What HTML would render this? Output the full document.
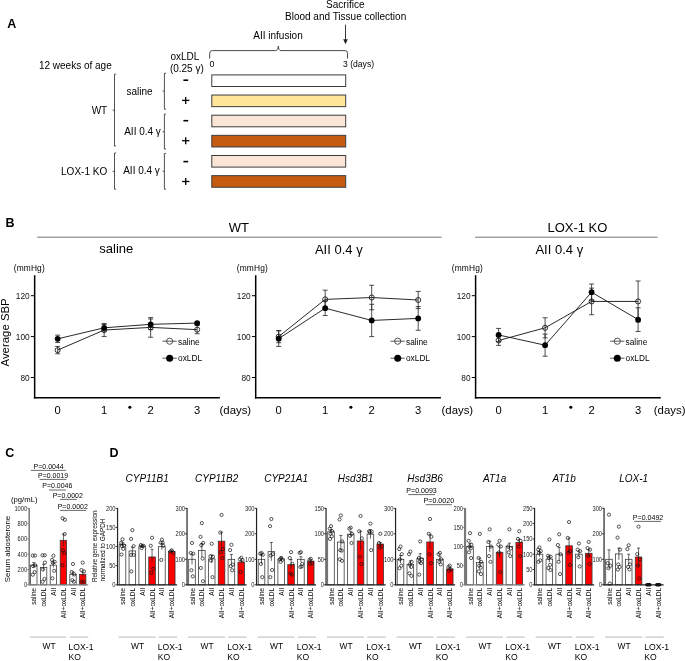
<!DOCTYPE html>
<html><head><meta charset="utf-8"><style>
html,body{margin:0;padding:0;background:#fff;}
svg{display:block;will-change:transform;}
text{font-family:"Liberation Sans", sans-serif;}
</style></head><body>
<svg width="685" height="661" viewBox="0 0 685 661">
<rect width="685" height="661" fill="#fff"/>
<text x="7.2" y="28.3" font-size="12.5" font-weight="bold">A</text>
<text x="345.3" y="8.3" font-size="10" text-anchor="middle">Sacrifice</text>
<text x="345.6" y="19.6" font-size="10" text-anchor="middle">Blood and Tissue collection</text>
<line x1="345.5" y1="24.7" x2="345.5" y2="40" stroke="#222" stroke-width="0.9" />
<path d="M343.2,39.2 L347.8,39.2 L345.5,44.2 Z" stroke="none" stroke-width="0" fill="#222"/>
<text x="278" y="38.6" font-size="10" text-anchor="middle">AII infusion</text>
<path d="M209.7,58.6 L209.7,53.2 Q209.7,50.6 212.3,50.6 L275.6,50.6 Q278,50.6 278.3,46.2 Q278.6,50.6 281,50.6 L344.9,50.6 Q347.5,50.6 347.5,53.2 L347.5,58.6" stroke="#333" stroke-width="0.9" fill="none"/>
<text x="209.6" y="67.2" font-size="8.8">0</text>
<text x="343" y="67.2" font-size="8.6">3 (days)</text>
<text x="38.9" y="68.8" font-size="10">12 weeks of age</text>
<text x="170.4" y="60.4" font-size="10">oxLDL</text>
<text x="169.9" y="71.6" font-size="10">(0.25 γ)</text>
<path d="M116.1,74.2 L114.5,74.2 L114.5,146 L116.1,146 M114.5,110.2 L112.7,110.2" stroke="#333" stroke-width="0.85" fill="none"/>
<path d="M116.1,153 L114.5,153 L114.5,189.2 L116.1,189.2 M114.5,171.3 L112.7,171.3" stroke="#333" stroke-width="0.85" fill="none"/>
<path d="M166,73.3 L164.4,73.3 L164.4,109.2 L166,109.2 M164.4,91 L162.6,91" stroke="#333" stroke-width="0.85" fill="none"/>
<path d="M166,114.1 L164.4,114.1 L164.4,149.1 L166,149.1 M164.4,131.8 L162.6,131.8" stroke="#333" stroke-width="0.85" fill="none"/>
<path d="M166,153.5 L164.4,153.5 L164.4,189.2 L166,189.2 M164.4,171.2 L162.6,171.2" stroke="#333" stroke-width="0.85" fill="none"/>
<text x="107.2" y="113.9" font-size="10" text-anchor="end">WT</text>
<text x="107.2" y="174.9" font-size="10" text-anchor="end">LOX-1 KO</text>
<text x="126.4" y="94.5" font-size="10">saline</text>
<text x="124.2" y="134.6" font-size="10">AII 0.4 γ</text>
<text x="123.2" y="174" font-size="10">AII 0.4 γ</text>
<line x1="183.4" y1="80.2" x2="188.2" y2="80.2" stroke="#000" stroke-width="1.6" />
<line x1="183.4" y1="120.7" x2="188.2" y2="120.7" stroke="#000" stroke-width="1.6" />
<line x1="183.4" y1="161.6" x2="188.2" y2="161.6" stroke="#000" stroke-width="1.6" />
<line x1="182.1" y1="100.4" x2="189.4" y2="100.4" stroke="#000" stroke-width="1.3" />
<line x1="185.7" y1="97" x2="185.7" y2="103.9" stroke="#000" stroke-width="1.3" />
<line x1="182.1" y1="140.7" x2="189.4" y2="140.7" stroke="#000" stroke-width="1.3" />
<line x1="185.7" y1="137.3" x2="185.7" y2="144.2" stroke="#000" stroke-width="1.3" />
<line x1="182.1" y1="181.5" x2="189.4" y2="181.5" stroke="#000" stroke-width="1.3" />
<line x1="185.7" y1="178.1" x2="185.7" y2="185" stroke="#000" stroke-width="1.3" />
<rect x="211.8" y="74.9" width="133.9" height="11.6" fill="#ffffff" stroke="#3c3c3c" stroke-width="1"/>
<rect x="211.8" y="95.05" width="133.9" height="11.6" fill="#ffe699" stroke="#3c3c3c" stroke-width="1"/>
<rect x="211.8" y="115.2" width="133.9" height="11.6" fill="#fbe5d6" stroke="#3c3c3c" stroke-width="1"/>
<rect x="211.8" y="135.35" width="133.9" height="11.6" fill="#c55a11" stroke="#3c3c3c" stroke-width="1"/>
<rect x="211.8" y="155.5" width="133.9" height="11.6" fill="#fbe5d6" stroke="#3c3c3c" stroke-width="1"/>
<rect x="211.8" y="175.65" width="133.9" height="11.6" fill="#c55a11" stroke="#3c3c3c" stroke-width="1"/>
<text x="5.6" y="227.2" font-size="12.5" font-weight="bold">B</text>
<text x="238.9" y="232.3" font-size="13" text-anchor="middle">WT</text>
<line x1="37.2" y1="237.2" x2="441.6" y2="237.2" stroke="#666" stroke-width="0.9" />
<text x="577.4" y="232.2" font-size="13" text-anchor="middle">LOX-1 KO</text>
<line x1="475.1" y1="237.2" x2="657.6" y2="237.2" stroke="#666" stroke-width="0.9" />
<text x="116.3" y="253.4" font-size="13" text-anchor="middle">saline</text>
<text x="338.8" y="253.8" font-size="13" text-anchor="middle">AII 0.4 γ</text>
<text x="559.3" y="254.4" font-size="13" text-anchor="middle">AII 0.4 γ</text>
<text x="8.9" y="332.4" font-size="11.4" text-anchor="middle" transform="rotate(-90 8.9 332.4)">Average SBP</text>
<text x="13.7" y="270.6" font-size="8.4" textLength="31">(mmHg)</text>
<line x1="34.65" y1="275.2" x2="34.65" y2="398.55" stroke="#000" stroke-width="1.5" />
<line x1="33.9" y1="397.8" x2="219.85" y2="397.8" stroke="#000" stroke-width="1.6" />
<line x1="30.85" y1="295.7" x2="34.65" y2="295.7" stroke="#000" stroke-width="1" />
<text x="29.65" y="298.7" font-size="8.3" text-anchor="end" fill="#111">120</text>
<line x1="30.85" y1="336.6" x2="34.65" y2="336.6" stroke="#000" stroke-width="1" />
<text x="29.65" y="339.6" font-size="8.3" text-anchor="end" fill="#111">100</text>
<line x1="30.85" y1="377.5" x2="34.65" y2="377.5" stroke="#000" stroke-width="1" />
<text x="29.65" y="380.5" font-size="8.3" text-anchor="end" fill="#111">80</text>
<text x="57.65" y="414.2" font-size="11.2" text-anchor="middle">0</text>
<text x="104.15" y="414.2" font-size="11.2" text-anchor="middle">1</text>
<text x="150.65" y="414.2" font-size="11.2" text-anchor="middle">2</text>
<text x="197.15" y="414.2" font-size="11.2" text-anchor="middle">3</text>
<circle cx="129.85" cy="407.2" r="1.55" fill="#000" stroke="none" stroke-width="1"/>
<text x="219.5" y="414.2" font-size="11.4">(days)</text>
<polyline points="57.65,350.1 104.15,330.06 150.65,327.4 197.15,329.65" fill="none" stroke="#111" stroke-width="0.9"/>
<polyline points="57.65,338.85 104.15,327.81 150.65,324.33 197.15,323.1" fill="none" stroke="#111" stroke-width="0.9"/>
<line x1="57.65" y1="346.42" x2="57.65" y2="353.78" stroke="#222" stroke-width="0.8" />
<line x1="55.15" y1="346.42" x2="60.15" y2="346.42" stroke="#222" stroke-width="0.8" />
<line x1="55.15" y1="353.78" x2="60.15" y2="353.78" stroke="#222" stroke-width="0.8" />
<line x1="104.15" y1="323.51" x2="104.15" y2="336.6" stroke="#222" stroke-width="0.8" />
<line x1="101.65" y1="323.51" x2="106.65" y2="323.51" stroke="#222" stroke-width="0.8" />
<line x1="101.65" y1="336.6" x2="106.65" y2="336.6" stroke="#222" stroke-width="0.8" />
<line x1="150.65" y1="317.58" x2="150.65" y2="337.21" stroke="#222" stroke-width="0.8" />
<line x1="148.15" y1="317.58" x2="153.15" y2="317.58" stroke="#222" stroke-width="0.8" />
<line x1="148.15" y1="337.21" x2="153.15" y2="337.21" stroke="#222" stroke-width="0.8" />
<line x1="197.15" y1="325.56" x2="197.15" y2="333.74" stroke="#222" stroke-width="0.8" />
<line x1="194.65" y1="325.56" x2="199.65" y2="325.56" stroke="#222" stroke-width="0.8" />
<line x1="194.65" y1="333.74" x2="199.65" y2="333.74" stroke="#222" stroke-width="0.8" />
<line x1="57.65" y1="335.17" x2="57.65" y2="342.53" stroke="#222" stroke-width="0.8" />
<line x1="55.15" y1="335.17" x2="60.15" y2="335.17" stroke="#222" stroke-width="0.8" />
<line x1="55.15" y1="342.53" x2="60.15" y2="342.53" stroke="#222" stroke-width="0.8" />
<line x1="104.15" y1="324.53" x2="104.15" y2="331.08" stroke="#222" stroke-width="0.8" />
<line x1="101.65" y1="324.53" x2="106.65" y2="324.53" stroke="#222" stroke-width="0.8" />
<line x1="101.65" y1="331.08" x2="106.65" y2="331.08" stroke="#222" stroke-width="0.8" />
<line x1="150.65" y1="319.01" x2="150.65" y2="329.65" stroke="#222" stroke-width="0.8" />
<line x1="148.15" y1="319.01" x2="153.15" y2="319.01" stroke="#222" stroke-width="0.8" />
<line x1="148.15" y1="329.65" x2="153.15" y2="329.65" stroke="#222" stroke-width="0.8" />
<line x1="197.15" y1="321.88" x2="197.15" y2="324.33" stroke="#222" stroke-width="0.8" />
<line x1="194.65" y1="321.88" x2="199.65" y2="321.88" stroke="#222" stroke-width="0.8" />
<line x1="194.65" y1="324.33" x2="199.65" y2="324.33" stroke="#222" stroke-width="0.8" />
<circle cx="57.65" cy="350.1" r="2.55" fill="none" stroke="#111" stroke-width="0.85"/>
<circle cx="104.15" cy="330.06" r="2.55" fill="none" stroke="#111" stroke-width="0.85"/>
<circle cx="150.65" cy="327.4" r="2.55" fill="none" stroke="#111" stroke-width="0.85"/>
<circle cx="197.15" cy="329.65" r="2.55" fill="none" stroke="#111" stroke-width="0.85"/>
<circle cx="57.65" cy="338.85" r="2.9" fill="#000" stroke="none" stroke-width="1"/>
<circle cx="104.15" cy="327.81" r="2.9" fill="#000" stroke="none" stroke-width="1"/>
<circle cx="150.65" cy="324.33" r="2.9" fill="#000" stroke="none" stroke-width="1"/>
<circle cx="197.15" cy="323.1" r="2.9" fill="#000" stroke="none" stroke-width="1"/>
<line x1="162.45" y1="341.2" x2="176.75" y2="341.2" stroke="#222" stroke-width="0.75" />
<circle cx="169.65" cy="341.2" r="3.1" fill="none" stroke="#222" stroke-width="0.75"/>
<text x="178.05" y="344.9" font-size="8.3">saline</text>
<line x1="162.45" y1="358.2" x2="176.75" y2="358.2" stroke="#222" stroke-width="0.75" />
<circle cx="169.65" cy="358.2" r="3.5" fill="#000" stroke="none" stroke-width="1"/>
<text x="178.05" y="360.8" font-size="8.3">oxLDL</text>
<text x="236.8" y="270.6" font-size="8.4" textLength="31">(mmHg)</text>
<line x1="255.7" y1="275.2" x2="255.7" y2="398.55" stroke="#000" stroke-width="1.5" />
<line x1="254.95" y1="397.8" x2="440.9" y2="397.8" stroke="#000" stroke-width="1.6" />
<line x1="251.9" y1="295.7" x2="255.7" y2="295.7" stroke="#000" stroke-width="1" />
<text x="250.7" y="298.7" font-size="8.3" text-anchor="end" fill="#111">120</text>
<line x1="251.9" y1="336.6" x2="255.7" y2="336.6" stroke="#000" stroke-width="1" />
<text x="250.7" y="339.6" font-size="8.3" text-anchor="end" fill="#111">100</text>
<line x1="251.9" y1="377.5" x2="255.7" y2="377.5" stroke="#000" stroke-width="1" />
<text x="250.7" y="380.5" font-size="8.3" text-anchor="end" fill="#111">80</text>
<text x="278.7" y="414.2" font-size="11.2" text-anchor="middle">0</text>
<text x="325.2" y="414.2" font-size="11.2" text-anchor="middle">1</text>
<text x="371.7" y="414.2" font-size="11.2" text-anchor="middle">2</text>
<text x="418.2" y="414.2" font-size="11.2" text-anchor="middle">3</text>
<circle cx="350.9" cy="407.2" r="1.55" fill="#000" stroke="none" stroke-width="1"/>
<text x="441.5" y="414.2" font-size="11.4">(days)</text>
<polyline points="278.7,336.6 325.2,299.38 371.7,297.54 418.2,299.99" fill="none" stroke="#111" stroke-width="0.9"/>
<polyline points="278.7,338.65 325.2,308.17 371.7,320.44 418.2,318.4" fill="none" stroke="#111" stroke-width="0.9"/>
<line x1="278.7" y1="330.47" x2="278.7" y2="342.74" stroke="#222" stroke-width="0.8" />
<line x1="276.2" y1="330.47" x2="281.2" y2="330.47" stroke="#222" stroke-width="0.8" />
<line x1="276.2" y1="342.74" x2="281.2" y2="342.74" stroke="#222" stroke-width="0.8" />
<line x1="325.2" y1="290.18" x2="325.2" y2="308.58" stroke="#222" stroke-width="0.8" />
<line x1="322.7" y1="290.18" x2="327.7" y2="290.18" stroke="#222" stroke-width="0.8" />
<line x1="322.7" y1="308.58" x2="327.7" y2="308.58" stroke="#222" stroke-width="0.8" />
<line x1="371.7" y1="285.27" x2="371.7" y2="309.81" stroke="#222" stroke-width="0.8" />
<line x1="369.2" y1="285.27" x2="374.2" y2="285.27" stroke="#222" stroke-width="0.8" />
<line x1="369.2" y1="309.81" x2="374.2" y2="309.81" stroke="#222" stroke-width="0.8" />
<line x1="418.2" y1="291.41" x2="418.2" y2="308.58" stroke="#222" stroke-width="0.8" />
<line x1="415.7" y1="291.41" x2="420.7" y2="291.41" stroke="#222" stroke-width="0.8" />
<line x1="415.7" y1="308.58" x2="420.7" y2="308.58" stroke="#222" stroke-width="0.8" />
<line x1="278.7" y1="330.87" x2="278.7" y2="346.42" stroke="#222" stroke-width="0.8" />
<line x1="276.2" y1="330.87" x2="281.2" y2="330.87" stroke="#222" stroke-width="0.8" />
<line x1="276.2" y1="346.42" x2="281.2" y2="346.42" stroke="#222" stroke-width="0.8" />
<line x1="325.2" y1="300.81" x2="325.2" y2="315.54" stroke="#222" stroke-width="0.8" />
<line x1="322.7" y1="300.81" x2="327.7" y2="300.81" stroke="#222" stroke-width="0.8" />
<line x1="322.7" y1="315.54" x2="327.7" y2="315.54" stroke="#222" stroke-width="0.8" />
<line x1="371.7" y1="304.29" x2="371.7" y2="336.6" stroke="#222" stroke-width="0.8" />
<line x1="369.2" y1="304.29" x2="374.2" y2="304.29" stroke="#222" stroke-width="0.8" />
<line x1="369.2" y1="336.6" x2="374.2" y2="336.6" stroke="#222" stroke-width="0.8" />
<line x1="418.2" y1="306.54" x2="418.2" y2="330.26" stroke="#222" stroke-width="0.8" />
<line x1="415.7" y1="306.54" x2="420.7" y2="306.54" stroke="#222" stroke-width="0.8" />
<line x1="415.7" y1="330.26" x2="420.7" y2="330.26" stroke="#222" stroke-width="0.8" />
<circle cx="278.7" cy="336.6" r="2.55" fill="none" stroke="#111" stroke-width="0.85"/>
<circle cx="325.2" cy="299.38" r="2.55" fill="none" stroke="#111" stroke-width="0.85"/>
<circle cx="371.7" cy="297.54" r="2.55" fill="none" stroke="#111" stroke-width="0.85"/>
<circle cx="418.2" cy="299.99" r="2.55" fill="none" stroke="#111" stroke-width="0.85"/>
<circle cx="278.7" cy="338.65" r="2.9" fill="#000" stroke="none" stroke-width="1"/>
<circle cx="325.2" cy="308.17" r="2.9" fill="#000" stroke="none" stroke-width="1"/>
<circle cx="371.7" cy="320.44" r="2.9" fill="#000" stroke="none" stroke-width="1"/>
<circle cx="418.2" cy="318.4" r="2.9" fill="#000" stroke="none" stroke-width="1"/>
<line x1="390.5" y1="341.2" x2="404.8" y2="341.2" stroke="#222" stroke-width="0.75" />
<circle cx="397.7" cy="341.2" r="3.1" fill="none" stroke="#222" stroke-width="0.75"/>
<text x="406" y="344.9" font-size="8.3">saline</text>
<line x1="390.5" y1="358.2" x2="404.8" y2="358.2" stroke="#222" stroke-width="0.75" />
<circle cx="397.7" cy="358.2" r="3.5" fill="#000" stroke="none" stroke-width="1"/>
<text x="406" y="360.8" font-size="8.3">oxLDL</text>
<text x="451.8" y="270.6" font-size="8.4" textLength="31">(mmHg)</text>
<line x1="475.6" y1="275.2" x2="475.6" y2="398.55" stroke="#000" stroke-width="1.5" />
<line x1="474.85" y1="397.8" x2="660.8" y2="397.8" stroke="#000" stroke-width="1.6" />
<line x1="471.8" y1="295.7" x2="475.6" y2="295.7" stroke="#000" stroke-width="1" />
<text x="470.6" y="298.7" font-size="8.3" text-anchor="end" fill="#111">120</text>
<line x1="471.8" y1="336.6" x2="475.6" y2="336.6" stroke="#000" stroke-width="1" />
<text x="470.6" y="339.6" font-size="8.3" text-anchor="end" fill="#111">100</text>
<line x1="471.8" y1="377.5" x2="475.6" y2="377.5" stroke="#000" stroke-width="1" />
<text x="470.6" y="380.5" font-size="8.3" text-anchor="end" fill="#111">80</text>
<text x="498.6" y="414.2" font-size="11.2" text-anchor="middle">0</text>
<text x="545.1" y="414.2" font-size="11.2" text-anchor="middle">1</text>
<text x="591.6" y="414.2" font-size="11.2" text-anchor="middle">2</text>
<text x="638.1" y="414.2" font-size="11.2" text-anchor="middle">3</text>
<circle cx="570.8" cy="407.2" r="1.55" fill="#000" stroke="none" stroke-width="1"/>
<text x="653.8" y="414.2" font-size="11.4">(days)</text>
<polyline points="498.6,340.49 545.1,327.81 591.6,301.43 638.1,301.43" fill="none" stroke="#111" stroke-width="0.9"/>
<polyline points="498.6,334.96 545.1,345.19 591.6,292.22 638.1,319.63" fill="none" stroke="#111" stroke-width="0.9"/>
<line x1="498.6" y1="335.58" x2="498.6" y2="345.39" stroke="#222" stroke-width="0.8" />
<line x1="496.1" y1="335.58" x2="501.1" y2="335.58" stroke="#222" stroke-width="0.8" />
<line x1="496.1" y1="345.39" x2="501.1" y2="345.39" stroke="#222" stroke-width="0.8" />
<line x1="545.1" y1="317.79" x2="545.1" y2="337.83" stroke="#222" stroke-width="0.8" />
<line x1="542.6" y1="317.79" x2="547.6" y2="317.79" stroke="#222" stroke-width="0.8" />
<line x1="542.6" y1="337.83" x2="547.6" y2="337.83" stroke="#222" stroke-width="0.8" />
<line x1="591.6" y1="288.13" x2="591.6" y2="314.72" stroke="#222" stroke-width="0.8" />
<line x1="589.1" y1="288.13" x2="594.1" y2="288.13" stroke="#222" stroke-width="0.8" />
<line x1="589.1" y1="314.72" x2="594.1" y2="314.72" stroke="#222" stroke-width="0.8" />
<line x1="638.1" y1="280.98" x2="638.1" y2="321.88" stroke="#222" stroke-width="0.8" />
<line x1="635.6" y1="280.98" x2="640.6" y2="280.98" stroke="#222" stroke-width="0.8" />
<line x1="635.6" y1="321.88" x2="640.6" y2="321.88" stroke="#222" stroke-width="0.8" />
<line x1="498.6" y1="328.42" x2="498.6" y2="341.51" stroke="#222" stroke-width="0.8" />
<line x1="496.1" y1="328.42" x2="501.1" y2="328.42" stroke="#222" stroke-width="0.8" />
<line x1="496.1" y1="341.51" x2="501.1" y2="341.51" stroke="#222" stroke-width="0.8" />
<line x1="545.1" y1="334.15" x2="545.1" y2="356.23" stroke="#222" stroke-width="0.8" />
<line x1="542.6" y1="334.15" x2="547.6" y2="334.15" stroke="#222" stroke-width="0.8" />
<line x1="542.6" y1="356.23" x2="547.6" y2="356.23" stroke="#222" stroke-width="0.8" />
<line x1="591.6" y1="284.04" x2="591.6" y2="300.4" stroke="#222" stroke-width="0.8" />
<line x1="589.1" y1="284.04" x2="594.1" y2="284.04" stroke="#222" stroke-width="0.8" />
<line x1="589.1" y1="300.4" x2="594.1" y2="300.4" stroke="#222" stroke-width="0.8" />
<line x1="638.1" y1="307.77" x2="638.1" y2="331.49" stroke="#222" stroke-width="0.8" />
<line x1="635.6" y1="307.77" x2="640.6" y2="307.77" stroke="#222" stroke-width="0.8" />
<line x1="635.6" y1="331.49" x2="640.6" y2="331.49" stroke="#222" stroke-width="0.8" />
<circle cx="498.6" cy="340.49" r="2.55" fill="none" stroke="#111" stroke-width="0.85"/>
<circle cx="545.1" cy="327.81" r="2.55" fill="none" stroke="#111" stroke-width="0.85"/>
<circle cx="591.6" cy="301.43" r="2.55" fill="none" stroke="#111" stroke-width="0.85"/>
<circle cx="638.1" cy="301.43" r="2.55" fill="none" stroke="#111" stroke-width="0.85"/>
<circle cx="498.6" cy="334.96" r="2.9" fill="#000" stroke="none" stroke-width="1"/>
<circle cx="545.1" cy="345.19" r="2.9" fill="#000" stroke="none" stroke-width="1"/>
<circle cx="591.6" cy="292.22" r="2.9" fill="#000" stroke="none" stroke-width="1"/>
<circle cx="638.1" cy="319.63" r="2.9" fill="#000" stroke="none" stroke-width="1"/>
<line x1="610.1" y1="341.2" x2="624.4" y2="341.2" stroke="#222" stroke-width="0.75" />
<circle cx="617.3" cy="341.2" r="3.1" fill="none" stroke="#222" stroke-width="0.75"/>
<text x="625.6" y="344.9" font-size="8.3">saline</text>
<line x1="610.1" y1="358.2" x2="624.4" y2="358.2" stroke="#222" stroke-width="0.75" />
<circle cx="617.3" cy="358.2" r="3.5" fill="#000" stroke="none" stroke-width="1"/>
<text x="625.6" y="360.8" font-size="8.3">oxLDL</text>
<text x="5.2" y="456.5" font-size="12.5" font-weight="bold">C</text>
<line x1="29.2" y1="508" x2="29.2" y2="585.3" stroke="#808080" stroke-width="1.6" />
<line x1="27.2" y1="584.8" x2="29.2" y2="584.8" stroke="#808080" stroke-width="0.9" />
<text x="27.2" y="587.2" font-size="7" text-anchor="end" fill="#222" textLength="3.2" lengthAdjust="spacingAndGlyphs">0</text>
<line x1="27.2" y1="569.5" x2="29.2" y2="569.5" stroke="#808080" stroke-width="0.9" />
<text x="27.2" y="571.9" font-size="7" text-anchor="end" fill="#222" textLength="9.6" lengthAdjust="spacingAndGlyphs">200</text>
<line x1="27.2" y1="554.2" x2="29.2" y2="554.2" stroke="#808080" stroke-width="0.9" />
<text x="27.2" y="556.6" font-size="7" text-anchor="end" fill="#222" textLength="9.6" lengthAdjust="spacingAndGlyphs">400</text>
<line x1="27.2" y1="538.9" x2="29.2" y2="538.9" stroke="#808080" stroke-width="0.9" />
<text x="27.2" y="541.3" font-size="7" text-anchor="end" fill="#222" textLength="9.6" lengthAdjust="spacingAndGlyphs">600</text>
<line x1="27.2" y1="523.6" x2="29.2" y2="523.6" stroke="#808080" stroke-width="0.9" />
<text x="27.2" y="526" font-size="7" text-anchor="end" fill="#222" textLength="9.6" lengthAdjust="spacingAndGlyphs">800</text>
<line x1="27.2" y1="508.3" x2="29.2" y2="508.3" stroke="#808080" stroke-width="0.9" />
<text x="27.2" y="510.7" font-size="7" text-anchor="end" fill="#222" textLength="12.8" lengthAdjust="spacingAndGlyphs">1000</text>
<rect x="30.6" y="565.14" width="6.4" height="19.66" fill="#ffffff" stroke="#333" stroke-width="0.75"/>
<rect x="40.4" y="567.43" width="6.4" height="17.37" fill="#ffffff" stroke="#333" stroke-width="0.75"/>
<rect x="50.2" y="565.14" width="6.4" height="19.66" fill="#ffffff" stroke="#333" stroke-width="0.75"/>
<rect x="60.2" y="540.28" width="6.4" height="44.52" fill="#ff0000" stroke="#333" stroke-width="0.75"/>
<rect x="69.8" y="574.32" width="6.4" height="10.48" fill="#ffffff" stroke="#333" stroke-width="0.75"/>
<rect x="79.5" y="574.32" width="6.4" height="10.48" fill="#ff0000" stroke="#333" stroke-width="0.75"/>
<line x1="28.6" y1="584.8" x2="88.2" y2="584.8" stroke="#808080" stroke-width="1.2" />
<line x1="33.8" y1="562.46" x2="33.8" y2="567.82" stroke="#222" stroke-width="0.7" />
<line x1="32.3" y1="562.46" x2="35.3" y2="562.46" stroke="#222" stroke-width="0.7" />
<line x1="43.6" y1="564.37" x2="43.6" y2="570.49" stroke="#222" stroke-width="0.7" />
<line x1="42.1" y1="564.37" x2="45.1" y2="564.37" stroke="#222" stroke-width="0.7" />
<line x1="53.4" y1="562.84" x2="53.4" y2="567.43" stroke="#222" stroke-width="0.7" />
<line x1="51.9" y1="562.84" x2="54.9" y2="562.84" stroke="#222" stroke-width="0.7" />
<line x1="63.4" y1="534.16" x2="63.4" y2="546.01" stroke="#222" stroke-width="0.7" />
<line x1="61.9" y1="534.16" x2="64.9" y2="534.16" stroke="#222" stroke-width="0.7" />
<line x1="73" y1="572.02" x2="73" y2="576.61" stroke="#222" stroke-width="0.7" />
<line x1="71.5" y1="572.02" x2="74.5" y2="572.02" stroke="#222" stroke-width="0.7" />
<line x1="82.7" y1="572.02" x2="82.7" y2="576.61" stroke="#222" stroke-width="0.7" />
<line x1="81.2" y1="572.02" x2="84.2" y2="572.02" stroke="#222" stroke-width="0.7" />
<circle cx="32.7" cy="555.58" r="1.6" fill="none" stroke="#111" stroke-width="0.7"/>
<circle cx="35" cy="555.58" r="1.6" fill="none" stroke="#111" stroke-width="0.7"/>
<circle cx="35.1" cy="565.29" r="1.6" fill="none" stroke="#111" stroke-width="0.7"/>
<circle cx="33.2" cy="566.06" r="1.6" fill="none" stroke="#111" stroke-width="0.7"/>
<circle cx="34.6" cy="572.1" r="1.6" fill="none" stroke="#111" stroke-width="0.7"/>
<circle cx="32.8" cy="574.7" r="1.6" fill="none" stroke="#111" stroke-width="0.7"/>
<circle cx="42.5" cy="555.27" r="1.6" fill="none" stroke="#111" stroke-width="0.7"/>
<circle cx="44.8" cy="555.27" r="1.6" fill="none" stroke="#111" stroke-width="0.7"/>
<circle cx="44.9" cy="562.62" r="1.6" fill="none" stroke="#111" stroke-width="0.7"/>
<circle cx="43" cy="569.5" r="1.6" fill="none" stroke="#111" stroke-width="0.7"/>
<circle cx="44.4" cy="578.99" r="1.6" fill="none" stroke="#111" stroke-width="0.7"/>
<circle cx="42.6" cy="581.74" r="1.6" fill="none" stroke="#111" stroke-width="0.7"/>
<circle cx="53.4" cy="555.73" r="1.6" fill="none" stroke="#111" stroke-width="0.7"/>
<circle cx="52.1" cy="559.94" r="1.6" fill="none" stroke="#111" stroke-width="0.7"/>
<circle cx="54.7" cy="561.85" r="1.6" fill="none" stroke="#111" stroke-width="0.7"/>
<circle cx="52.8" cy="562.62" r="1.6" fill="none" stroke="#111" stroke-width="0.7"/>
<circle cx="54.2" cy="570.8" r="1.6" fill="none" stroke="#111" stroke-width="0.7"/>
<circle cx="52.4" cy="578.3" r="1.6" fill="none" stroke="#111" stroke-width="0.7"/>
<circle cx="62.6" cy="518.25" r="1.6" fill="none" stroke="#111" stroke-width="0.7"/>
<circle cx="64.9" cy="519.77" r="1.6" fill="none" stroke="#111" stroke-width="0.7"/>
<circle cx="64.7" cy="534.08" r="1.6" fill="none" stroke="#111" stroke-width="0.7"/>
<circle cx="62.8" cy="550.38" r="1.6" fill="none" stroke="#111" stroke-width="0.7"/>
<circle cx="64.2" cy="553.05" r="1.6" fill="none" stroke="#111" stroke-width="0.7"/>
<circle cx="62.4" cy="565.29" r="1.6" fill="none" stroke="#111" stroke-width="0.7"/>
<circle cx="73" cy="563.99" r="1.6" fill="none" stroke="#111" stroke-width="0.7"/>
<circle cx="71.7" cy="572.02" r="1.6" fill="none" stroke="#111" stroke-width="0.7"/>
<circle cx="74.3" cy="574.32" r="1.6" fill="none" stroke="#111" stroke-width="0.7"/>
<circle cx="72.4" cy="580.21" r="1.6" fill="none" stroke="#111" stroke-width="0.7"/>
<circle cx="73.8" cy="581.74" r="1.6" fill="none" stroke="#111" stroke-width="0.7"/>
<circle cx="82.7" cy="562.62" r="1.6" fill="none" stroke="#111" stroke-width="0.7"/>
<circle cx="81.4" cy="570.04" r="1.6" fill="none" stroke="#111" stroke-width="0.7"/>
<circle cx="84" cy="571.41" r="1.6" fill="none" stroke="#111" stroke-width="0.7"/>
<circle cx="81.7" cy="581.74" r="1.6" fill="none" stroke="#111" stroke-width="0.7"/>
<circle cx="83.7" cy="581.74" r="1.6" fill="none" stroke="#111" stroke-width="0.7"/>
<text x="11" y="502.2" font-size="7.7">(pg/mL)</text>
<text x="10.2" y="549" font-size="7.85" text-anchor="middle" transform="rotate(-90 10.2 549)">Serum aldosterone</text>
<text x="33.6" y="468.7" font-size="7.5" textLength="30.1" lengthAdjust="spacingAndGlyphs">P=0.0044</text>
<line x1="30.9" y1="470.4" x2="66" y2="470.4" stroke="#444" stroke-width="0.8" />
<text x="38" y="478" font-size="7.5" textLength="30.1" lengthAdjust="spacingAndGlyphs">P=0.0019</text>
<line x1="39.7" y1="479.4" x2="66.5" y2="479.4" stroke="#444" stroke-width="0.8" />
<text x="42.3" y="487.8" font-size="7.5" textLength="30.1" lengthAdjust="spacingAndGlyphs">P=0.0046</text>
<line x1="49" y1="490" x2="66" y2="490" stroke="#444" stroke-width="0.8" />
<text x="52.7" y="497.7" font-size="7.5" textLength="30.1" lengthAdjust="spacingAndGlyphs">P=0.0002</text>
<line x1="60" y1="499.4" x2="76.9" y2="499.4" stroke="#444" stroke-width="0.8" />
<text x="57.7" y="508.7" font-size="7.5" textLength="30.1" lengthAdjust="spacingAndGlyphs">P=0.0002</text>
<line x1="60" y1="510.4" x2="86.2" y2="510.4" stroke="#444" stroke-width="0.8" />
<text x="36.4" y="587.8" font-size="6.5" text-anchor="end" fill="#000" transform="rotate(-90 36.4 587.8)">saline</text>
<text x="46.2" y="587.8" font-size="6.5" text-anchor="end" fill="#000" transform="rotate(-90 46.2 587.8)">oxLDL</text>
<text x="56" y="587.8" font-size="6.5" text-anchor="end" fill="#000" transform="rotate(-90 56 587.8)">AII</text>
<text x="66" y="587.8" font-size="6.5" text-anchor="end" fill="#000" transform="rotate(-90 66 587.8)">AII+oxLDL</text>
<text x="75.6" y="587.8" font-size="6.5" text-anchor="end" fill="#000" transform="rotate(-90 75.6 587.8)">AII</text>
<text x="85.3" y="587.8" font-size="6.5" text-anchor="end" fill="#000" transform="rotate(-90 85.3 587.8)">AII+oxLDL</text>
<line x1="29.9" y1="637.1" x2="66.4" y2="637.1" stroke="#bbb" stroke-width="1" />
<line x1="70" y1="637.1" x2="88.3" y2="637.1" stroke="#bbb" stroke-width="1" />
<text x="49" y="648.9" font-size="9.3" text-anchor="middle" textLength="13.1" lengthAdjust="spacingAndGlyphs">WT</text>
<text x="68.6" y="650" font-size="8.6">LOX-1</text>
<text x="68.6" y="660.2" font-size="8.6">KO</text>
<text x="109.6" y="457.4" font-size="12.5" font-weight="bold">D</text>
<text x="95" y="546.2" font-size="6.4" text-anchor="middle" transform="rotate(-90 95 546.2)" dominant-baseline="central">Relative gene expression</text>
<text x="102.1" y="550" font-size="6.4" text-anchor="middle" transform="rotate(-90 102.1 550)" dominant-baseline="central">normalized to GAPDH</text>
<line x1="117.55" y1="508" x2="117.55" y2="585.3" stroke="#222" stroke-width="1.2" />
<line x1="115.55" y1="584.8" x2="117.55" y2="584.8" stroke="#222" stroke-width="0.9" />
<text x="115.55" y="587.2" font-size="7" text-anchor="end" fill="#222" textLength="3.2" lengthAdjust="spacingAndGlyphs">0</text>
<line x1="115.55" y1="565.67" x2="117.55" y2="565.67" stroke="#222" stroke-width="0.9" />
<text x="115.55" y="568.07" font-size="7" text-anchor="end" fill="#222" textLength="6.4" lengthAdjust="spacingAndGlyphs">50</text>
<line x1="115.55" y1="546.55" x2="117.55" y2="546.55" stroke="#222" stroke-width="0.9" />
<text x="115.55" y="548.95" font-size="7" text-anchor="end" fill="#222" textLength="9.6" lengthAdjust="spacingAndGlyphs">100</text>
<line x1="115.55" y1="527.42" x2="117.55" y2="527.42" stroke="#222" stroke-width="0.9" />
<text x="115.55" y="529.82" font-size="7" text-anchor="end" fill="#222" textLength="9.6" lengthAdjust="spacingAndGlyphs">150</text>
<line x1="115.55" y1="508.3" x2="117.55" y2="508.3" stroke="#222" stroke-width="0.9" />
<text x="115.55" y="510.7" font-size="7" text-anchor="end" fill="#222" textLength="9.6" lengthAdjust="spacingAndGlyphs">200</text>
<rect x="119.2" y="544.64" width="6.6" height="40.16" fill="#ffffff" stroke="#333" stroke-width="0.75"/>
<rect x="129.05" y="550.95" width="6.6" height="33.85" fill="#ffffff" stroke="#333" stroke-width="0.75"/>
<rect x="138.9" y="546.17" width="6.6" height="38.63" fill="#ffffff" stroke="#333" stroke-width="0.75"/>
<rect x="148.75" y="556.95" width="6.6" height="27.85" fill="#ff0000" stroke="#333" stroke-width="0.75"/>
<rect x="158.6" y="546.66" width="6.6" height="38.14" fill="#ffffff" stroke="#333" stroke-width="0.75"/>
<rect x="168.45" y="551.37" width="6.6" height="33.43" fill="#ff0000" stroke="#333" stroke-width="0.75"/>
<line x1="116.95" y1="584.8" x2="177.15" y2="584.8" stroke="#222" stroke-width="1.2" />
<line x1="122.5" y1="542.73" x2="122.5" y2="546.55" stroke="#222" stroke-width="0.7" />
<line x1="121" y1="542.73" x2="124" y2="542.73" stroke="#222" stroke-width="0.7" />
<line x1="132.35" y1="547.12" x2="132.35" y2="554.77" stroke="#222" stroke-width="0.7" />
<line x1="130.85" y1="547.12" x2="133.85" y2="547.12" stroke="#222" stroke-width="0.7" />
<line x1="142.2" y1="545.02" x2="142.2" y2="547.31" stroke="#222" stroke-width="0.7" />
<line x1="140.7" y1="545.02" x2="143.7" y2="545.02" stroke="#222" stroke-width="0.7" />
<line x1="152.05" y1="549.3" x2="152.05" y2="561.54" stroke="#222" stroke-width="0.7" />
<line x1="150.55" y1="549.3" x2="153.55" y2="549.3" stroke="#222" stroke-width="0.7" />
<line x1="161.9" y1="543.6" x2="161.9" y2="549.72" stroke="#222" stroke-width="0.7" />
<line x1="160.4" y1="543.6" x2="163.4" y2="543.6" stroke="#222" stroke-width="0.7" />
<line x1="171.75" y1="550.22" x2="171.75" y2="552.52" stroke="#222" stroke-width="0.7" />
<line x1="170.25" y1="550.22" x2="173.25" y2="550.22" stroke="#222" stroke-width="0.7" />
<circle cx="122.5" cy="539.28" r="1.6" fill="none" stroke="#111" stroke-width="0.7"/>
<circle cx="121.2" cy="542.73" r="1.6" fill="none" stroke="#111" stroke-width="0.7"/>
<circle cx="123.8" cy="545.4" r="1.6" fill="none" stroke="#111" stroke-width="0.7"/>
<circle cx="121.9" cy="546.17" r="1.6" fill="none" stroke="#111" stroke-width="0.7"/>
<circle cx="123.3" cy="548.85" r="1.6" fill="none" stroke="#111" stroke-width="0.7"/>
<circle cx="121.5" cy="554.58" r="1.6" fill="none" stroke="#111" stroke-width="0.7"/>
<circle cx="132.35" cy="530.1" r="1.6" fill="none" stroke="#111" stroke-width="0.7"/>
<circle cx="131.05" cy="538.9" r="1.6" fill="none" stroke="#111" stroke-width="0.7"/>
<circle cx="133.65" cy="546.17" r="1.6" fill="none" stroke="#111" stroke-width="0.7"/>
<circle cx="131.15" cy="554.96" r="1.6" fill="none" stroke="#111" stroke-width="0.7"/>
<circle cx="133.55" cy="554.96" r="1.6" fill="none" stroke="#111" stroke-width="0.7"/>
<circle cx="131.35" cy="571.41" r="1.6" fill="none" stroke="#111" stroke-width="0.7"/>
<circle cx="142.2" cy="546.17" r="1.6" fill="none" stroke="#111" stroke-width="0.7"/>
<circle cx="140.9" cy="545.02" r="1.6" fill="none" stroke="#111" stroke-width="0.7"/>
<circle cx="143.5" cy="545.78" r="1.6" fill="none" stroke="#111" stroke-width="0.7"/>
<circle cx="141.6" cy="548.08" r="1.6" fill="none" stroke="#111" stroke-width="0.7"/>
<circle cx="152.05" cy="537.75" r="1.6" fill="none" stroke="#111" stroke-width="0.7"/>
<circle cx="150.75" cy="545.78" r="1.6" fill="none" stroke="#111" stroke-width="0.7"/>
<circle cx="153.35" cy="568.74" r="1.6" fill="none" stroke="#111" stroke-width="0.7"/>
<circle cx="151.45" cy="572.94" r="1.6" fill="none" stroke="#111" stroke-width="0.7"/>
<circle cx="161.9" cy="539.66" r="1.6" fill="none" stroke="#111" stroke-width="0.7"/>
<circle cx="160.6" cy="542.73" r="1.6" fill="none" stroke="#111" stroke-width="0.7"/>
<circle cx="163.2" cy="545.78" r="1.6" fill="none" stroke="#111" stroke-width="0.7"/>
<circle cx="161.3" cy="559.94" r="1.6" fill="none" stroke="#111" stroke-width="0.7"/>
<circle cx="162.7" cy="542.73" r="1.6" fill="none" stroke="#111" stroke-width="0.7"/>
<circle cx="171.75" cy="550.38" r="1.6" fill="none" stroke="#111" stroke-width="0.7"/>
<circle cx="170.45" cy="551.52" r="1.6" fill="none" stroke="#111" stroke-width="0.7"/>
<circle cx="173.05" cy="552.67" r="1.6" fill="none" stroke="#111" stroke-width="0.7"/>
<text x="147.15" y="482" font-size="10.6" text-anchor="middle" font-style="italic" textLength="43.17" lengthAdjust="spacingAndGlyphs">CYP11B1</text>
<text x="125.1" y="587.8" font-size="6.5" text-anchor="end" fill="#000" transform="rotate(-90 125.1 587.8)">saline</text>
<text x="134.95" y="587.8" font-size="6.5" text-anchor="end" fill="#000" transform="rotate(-90 134.95 587.8)">oxLDL</text>
<text x="144.8" y="587.8" font-size="6.5" text-anchor="end" fill="#000" transform="rotate(-90 144.8 587.8)">AII</text>
<text x="154.65" y="587.8" font-size="6.5" text-anchor="end" fill="#000" transform="rotate(-90 154.65 587.8)">AII+oxLDL</text>
<text x="164.5" y="587.8" font-size="6.5" text-anchor="end" fill="#000" transform="rotate(-90 164.5 587.8)">AII</text>
<text x="174.35" y="587.8" font-size="6.5" text-anchor="end" fill="#000" transform="rotate(-90 174.35 587.8)">AII+oxLDL</text>
<line x1="118.55" y1="637.1" x2="155.55" y2="637.1" stroke="#bbb" stroke-width="1" />
<line x1="158.75" y1="637.1" x2="177.15" y2="637.1" stroke="#bbb" stroke-width="1" />
<text x="137.55" y="648.9" font-size="9.3" text-anchor="middle" textLength="13.1" lengthAdjust="spacingAndGlyphs">WT</text>
<text x="157.75" y="650" font-size="8.6">LOX-1</text>
<text x="157.75" y="660.2" font-size="8.6">KO</text>
<line x1="187.05" y1="508" x2="187.05" y2="585.3" stroke="#222" stroke-width="1.2" />
<line x1="185.05" y1="584.8" x2="187.05" y2="584.8" stroke="#222" stroke-width="0.9" />
<text x="185.05" y="587.2" font-size="7" text-anchor="end" fill="#222" textLength="3.2" lengthAdjust="spacingAndGlyphs">0</text>
<line x1="185.05" y1="559.3" x2="187.05" y2="559.3" stroke="#222" stroke-width="0.9" />
<text x="185.05" y="561.7" font-size="7" text-anchor="end" fill="#222" textLength="9.6" lengthAdjust="spacingAndGlyphs">100</text>
<line x1="185.05" y1="533.8" x2="187.05" y2="533.8" stroke="#222" stroke-width="0.9" />
<text x="185.05" y="536.2" font-size="7" text-anchor="end" fill="#222" textLength="9.6" lengthAdjust="spacingAndGlyphs">200</text>
<line x1="185.05" y1="508.3" x2="187.05" y2="508.3" stroke="#222" stroke-width="0.9" />
<text x="185.05" y="510.7" font-size="7" text-anchor="end" fill="#222" textLength="9.6" lengthAdjust="spacingAndGlyphs">300</text>
<rect x="188.7" y="559.3" width="6.6" height="25.5" fill="#ffffff" stroke="#333" stroke-width="0.75"/>
<rect x="198.55" y="550.5" width="6.6" height="34.3" fill="#ffffff" stroke="#333" stroke-width="0.75"/>
<rect x="208.4" y="558.89" width="6.6" height="25.91" fill="#ffffff" stroke="#333" stroke-width="0.75"/>
<rect x="218.25" y="541.19" width="6.6" height="43.61" fill="#ff0000" stroke="#333" stroke-width="0.75"/>
<rect x="228.1" y="559.3" width="6.6" height="25.5" fill="#ffffff" stroke="#333" stroke-width="0.75"/>
<rect x="237.95" y="562.11" width="6.6" height="22.69" fill="#ff0000" stroke="#333" stroke-width="0.75"/>
<line x1="186.45" y1="584.8" x2="246.65" y2="584.8" stroke="#222" stroke-width="1.2" />
<line x1="192" y1="554.2" x2="192" y2="564.4" stroke="#222" stroke-width="0.7" />
<line x1="190.5" y1="554.2" x2="193.5" y2="554.2" stroke="#222" stroke-width="0.7" />
<line x1="201.85" y1="543.62" x2="201.85" y2="557.39" stroke="#222" stroke-width="0.7" />
<line x1="200.35" y1="543.62" x2="203.35" y2="543.62" stroke="#222" stroke-width="0.7" />
<line x1="211.7" y1="555.07" x2="211.7" y2="562.72" stroke="#222" stroke-width="0.7" />
<line x1="210.2" y1="555.07" x2="213.2" y2="555.07" stroke="#222" stroke-width="0.7" />
<line x1="221.55" y1="532.27" x2="221.55" y2="550.12" stroke="#222" stroke-width="0.7" />
<line x1="220.05" y1="532.27" x2="223.05" y2="532.27" stroke="#222" stroke-width="0.7" />
<line x1="231.4" y1="554.45" x2="231.4" y2="564.14" stroke="#222" stroke-width="0.7" />
<line x1="229.9" y1="554.45" x2="232.9" y2="554.45" stroke="#222" stroke-width="0.7" />
<line x1="241.25" y1="560.83" x2="241.25" y2="563.38" stroke="#222" stroke-width="0.7" />
<line x1="239.75" y1="560.83" x2="242.75" y2="560.83" stroke="#222" stroke-width="0.7" />
<circle cx="192" cy="542.98" r="1.6" fill="none" stroke="#111" stroke-width="0.7"/>
<circle cx="190.7" cy="552.92" r="1.6" fill="none" stroke="#111" stroke-width="0.7"/>
<circle cx="193.3" cy="553.69" r="1.6" fill="none" stroke="#111" stroke-width="0.7"/>
<circle cx="191.4" cy="570.26" r="1.6" fill="none" stroke="#111" stroke-width="0.7"/>
<circle cx="192.8" cy="576.38" r="1.6" fill="none" stroke="#111" stroke-width="0.7"/>
<circle cx="201.85" cy="523.09" r="1.6" fill="none" stroke="#111" stroke-width="0.7"/>
<circle cx="200.55" cy="536.86" r="1.6" fill="none" stroke="#111" stroke-width="0.7"/>
<circle cx="203.15" cy="542.98" r="1.6" fill="none" stroke="#111" stroke-width="0.7"/>
<circle cx="201.25" cy="545.27" r="1.6" fill="none" stroke="#111" stroke-width="0.7"/>
<circle cx="202.65" cy="558.53" r="1.6" fill="none" stroke="#111" stroke-width="0.7"/>
<circle cx="200.85" cy="567.97" r="1.6" fill="none" stroke="#111" stroke-width="0.7"/>
<circle cx="202.95" cy="581.23" r="1.6" fill="none" stroke="#111" stroke-width="0.7"/>
<circle cx="211.7" cy="543.75" r="1.6" fill="none" stroke="#111" stroke-width="0.7"/>
<circle cx="210.4" cy="556.24" r="1.6" fill="none" stroke="#111" stroke-width="0.7"/>
<circle cx="213" cy="556.75" r="1.6" fill="none" stroke="#111" stroke-width="0.7"/>
<circle cx="211.1" cy="560.57" r="1.6" fill="none" stroke="#111" stroke-width="0.7"/>
<circle cx="212.5" cy="577.15" r="1.6" fill="none" stroke="#111" stroke-width="0.7"/>
<circle cx="221.55" cy="514.93" r="1.6" fill="none" stroke="#111" stroke-width="0.7"/>
<circle cx="220.25" cy="532.52" r="1.6" fill="none" stroke="#111" stroke-width="0.7"/>
<circle cx="222.85" cy="549.1" r="1.6" fill="none" stroke="#111" stroke-width="0.7"/>
<circle cx="220.95" cy="552.16" r="1.6" fill="none" stroke="#111" stroke-width="0.7"/>
<circle cx="222.35" cy="558.02" r="1.6" fill="none" stroke="#111" stroke-width="0.7"/>
<circle cx="231.4" cy="544.76" r="1.6" fill="none" stroke="#111" stroke-width="0.7"/>
<circle cx="230.1" cy="550.12" r="1.6" fill="none" stroke="#111" stroke-width="0.7"/>
<circle cx="232.7" cy="564.65" r="1.6" fill="none" stroke="#111" stroke-width="0.7"/>
<circle cx="230.8" cy="566.18" r="1.6" fill="none" stroke="#111" stroke-width="0.7"/>
<circle cx="232.2" cy="570.26" r="1.6" fill="none" stroke="#111" stroke-width="0.7"/>
<circle cx="241.25" cy="557.77" r="1.6" fill="none" stroke="#111" stroke-width="0.7"/>
<circle cx="239.95" cy="559.3" r="1.6" fill="none" stroke="#111" stroke-width="0.7"/>
<circle cx="242.55" cy="560.06" r="1.6" fill="none" stroke="#111" stroke-width="0.7"/>
<circle cx="240.65" cy="572.05" r="1.6" fill="none" stroke="#111" stroke-width="0.7"/>
<text x="216.65" y="482" font-size="10.6" text-anchor="middle" font-style="italic" textLength="43.17" lengthAdjust="spacingAndGlyphs">CYP11B2</text>
<text x="194.6" y="587.8" font-size="6.5" text-anchor="end" fill="#000" transform="rotate(-90 194.6 587.8)">saline</text>
<text x="204.45" y="587.8" font-size="6.5" text-anchor="end" fill="#000" transform="rotate(-90 204.45 587.8)">oxLDL</text>
<text x="214.3" y="587.8" font-size="6.5" text-anchor="end" fill="#000" transform="rotate(-90 214.3 587.8)">AII</text>
<text x="224.15" y="587.8" font-size="6.5" text-anchor="end" fill="#000" transform="rotate(-90 224.15 587.8)">AII+oxLDL</text>
<text x="234" y="587.8" font-size="6.5" text-anchor="end" fill="#000" transform="rotate(-90 234 587.8)">AII</text>
<text x="243.85" y="587.8" font-size="6.5" text-anchor="end" fill="#000" transform="rotate(-90 243.85 587.8)">AII+oxLDL</text>
<line x1="188.05" y1="637.1" x2="225.05" y2="637.1" stroke="#bbb" stroke-width="1" />
<line x1="228.25" y1="637.1" x2="246.65" y2="637.1" stroke="#bbb" stroke-width="1" />
<text x="207.05" y="648.9" font-size="9.3" text-anchor="middle" textLength="13.1" lengthAdjust="spacingAndGlyphs">WT</text>
<text x="227.25" y="650" font-size="8.6">LOX-1</text>
<text x="227.25" y="660.2" font-size="8.6">KO</text>
<line x1="256.55" y1="508" x2="256.55" y2="585.3" stroke="#222" stroke-width="1.2" />
<line x1="254.55" y1="584.8" x2="256.55" y2="584.8" stroke="#222" stroke-width="0.9" />
<text x="254.55" y="587.2" font-size="7" text-anchor="end" fill="#222" textLength="3.2" lengthAdjust="spacingAndGlyphs">0</text>
<line x1="254.55" y1="559.3" x2="256.55" y2="559.3" stroke="#222" stroke-width="0.9" />
<text x="254.55" y="561.7" font-size="7" text-anchor="end" fill="#222" textLength="9.6" lengthAdjust="spacingAndGlyphs">100</text>
<line x1="254.55" y1="533.8" x2="256.55" y2="533.8" stroke="#222" stroke-width="0.9" />
<text x="254.55" y="536.2" font-size="7" text-anchor="end" fill="#222" textLength="9.6" lengthAdjust="spacingAndGlyphs">200</text>
<line x1="254.55" y1="508.3" x2="256.55" y2="508.3" stroke="#222" stroke-width="0.9" />
<text x="254.55" y="510.7" font-size="7" text-anchor="end" fill="#222" textLength="9.6" lengthAdjust="spacingAndGlyphs">300</text>
<rect x="258.2" y="559.3" width="6.6" height="25.5" fill="#ffffff" stroke="#333" stroke-width="0.75"/>
<rect x="268.05" y="551.65" width="6.6" height="33.15" fill="#ffffff" stroke="#333" stroke-width="0.75"/>
<rect x="277.9" y="559.04" width="6.6" height="25.75" fill="#ffffff" stroke="#333" stroke-width="0.75"/>
<rect x="287.75" y="564.65" width="6.6" height="20.14" fill="#ff0000" stroke="#333" stroke-width="0.75"/>
<rect x="297.6" y="559.3" width="6.6" height="25.5" fill="#ffffff" stroke="#333" stroke-width="0.75"/>
<rect x="307.45" y="561.08" width="6.6" height="23.72" fill="#ff0000" stroke="#333" stroke-width="0.75"/>
<line x1="255.95" y1="584.8" x2="316.15" y2="584.8" stroke="#222" stroke-width="1.2" />
<line x1="261.5" y1="554.71" x2="261.5" y2="563.89" stroke="#222" stroke-width="0.7" />
<line x1="260" y1="554.71" x2="263" y2="554.71" stroke="#222" stroke-width="0.7" />
<line x1="271.35" y1="542.47" x2="271.35" y2="560.83" stroke="#222" stroke-width="0.7" />
<line x1="269.85" y1="542.47" x2="272.85" y2="542.47" stroke="#222" stroke-width="0.7" />
<line x1="281.2" y1="557" x2="281.2" y2="561.08" stroke="#222" stroke-width="0.7" />
<line x1="279.7" y1="557" x2="282.7" y2="557" stroke="#222" stroke-width="0.7" />
<line x1="291.05" y1="559.55" x2="291.05" y2="569.75" stroke="#222" stroke-width="0.7" />
<line x1="289.55" y1="559.55" x2="292.55" y2="559.55" stroke="#222" stroke-width="0.7" />
<line x1="300.9" y1="556.75" x2="300.9" y2="561.85" stroke="#222" stroke-width="0.7" />
<line x1="299.4" y1="556.75" x2="302.4" y2="556.75" stroke="#222" stroke-width="0.7" />
<line x1="310.75" y1="559.81" x2="310.75" y2="562.36" stroke="#222" stroke-width="0.7" />
<line x1="309.25" y1="559.81" x2="312.25" y2="559.81" stroke="#222" stroke-width="0.7" />
<circle cx="261.5" cy="552.92" r="1.6" fill="none" stroke="#111" stroke-width="0.7"/>
<circle cx="260.2" cy="553.69" r="1.6" fill="none" stroke="#111" stroke-width="0.7"/>
<circle cx="262.8" cy="554.71" r="1.6" fill="none" stroke="#111" stroke-width="0.7"/>
<circle cx="260.9" cy="563.89" r="1.6" fill="none" stroke="#111" stroke-width="0.7"/>
<circle cx="262.3" cy="577.15" r="1.6" fill="none" stroke="#111" stroke-width="0.7"/>
<circle cx="271.35" cy="519.01" r="1.6" fill="none" stroke="#111" stroke-width="0.7"/>
<circle cx="270.05" cy="526.15" r="1.6" fill="none" stroke="#111" stroke-width="0.7"/>
<circle cx="272.65" cy="554.2" r="1.6" fill="none" stroke="#111" stroke-width="0.7"/>
<circle cx="270.75" cy="555.48" r="1.6" fill="none" stroke="#111" stroke-width="0.7"/>
<circle cx="272.15" cy="570.01" r="1.6" fill="none" stroke="#111" stroke-width="0.7"/>
<circle cx="270.35" cy="577.15" r="1.6" fill="none" stroke="#111" stroke-width="0.7"/>
<circle cx="281.2" cy="558.02" r="1.6" fill="none" stroke="#111" stroke-width="0.7"/>
<circle cx="279.9" cy="559.3" r="1.6" fill="none" stroke="#111" stroke-width="0.7"/>
<circle cx="282.5" cy="559.81" r="1.6" fill="none" stroke="#111" stroke-width="0.7"/>
<circle cx="280.6" cy="561.85" r="1.6" fill="none" stroke="#111" stroke-width="0.7"/>
<circle cx="291.05" cy="552.16" r="1.6" fill="none" stroke="#111" stroke-width="0.7"/>
<circle cx="289.75" cy="558.02" r="1.6" fill="none" stroke="#111" stroke-width="0.7"/>
<circle cx="292.35" cy="563.89" r="1.6" fill="none" stroke="#111" stroke-width="0.7"/>
<circle cx="290.45" cy="573.32" r="1.6" fill="none" stroke="#111" stroke-width="0.7"/>
<circle cx="291.85" cy="574.6" r="1.6" fill="none" stroke="#111" stroke-width="0.7"/>
<circle cx="300.9" cy="552.16" r="1.6" fill="none" stroke="#111" stroke-width="0.7"/>
<circle cx="299.6" cy="552.92" r="1.6" fill="none" stroke="#111" stroke-width="0.7"/>
<circle cx="302.2" cy="563.89" r="1.6" fill="none" stroke="#111" stroke-width="0.7"/>
<circle cx="300.3" cy="566.95" r="1.6" fill="none" stroke="#111" stroke-width="0.7"/>
<circle cx="301.7" cy="566.44" r="1.6" fill="none" stroke="#111" stroke-width="0.7"/>
<circle cx="310.75" cy="558.79" r="1.6" fill="none" stroke="#111" stroke-width="0.7"/>
<circle cx="309.45" cy="559.81" r="1.6" fill="none" stroke="#111" stroke-width="0.7"/>
<circle cx="312.05" cy="563.12" r="1.6" fill="none" stroke="#111" stroke-width="0.7"/>
<circle cx="310.15" cy="563.89" r="1.6" fill="none" stroke="#111" stroke-width="0.7"/>
<text x="286.15" y="482" font-size="10.6" text-anchor="middle" font-style="italic" textLength="43.92" lengthAdjust="spacingAndGlyphs">CYP21A1</text>
<text x="264.1" y="587.8" font-size="6.5" text-anchor="end" fill="#000" transform="rotate(-90 264.1 587.8)">saline</text>
<text x="273.95" y="587.8" font-size="6.5" text-anchor="end" fill="#000" transform="rotate(-90 273.95 587.8)">oxLDL</text>
<text x="283.8" y="587.8" font-size="6.5" text-anchor="end" fill="#000" transform="rotate(-90 283.8 587.8)">AII</text>
<text x="293.65" y="587.8" font-size="6.5" text-anchor="end" fill="#000" transform="rotate(-90 293.65 587.8)">AII+oxLDL</text>
<text x="303.5" y="587.8" font-size="6.5" text-anchor="end" fill="#000" transform="rotate(-90 303.5 587.8)">AII</text>
<text x="313.35" y="587.8" font-size="6.5" text-anchor="end" fill="#000" transform="rotate(-90 313.35 587.8)">AII+oxLDL</text>
<line x1="257.55" y1="637.1" x2="294.55" y2="637.1" stroke="#bbb" stroke-width="1" />
<line x1="297.75" y1="637.1" x2="316.15" y2="637.1" stroke="#bbb" stroke-width="1" />
<text x="276.55" y="648.9" font-size="9.3" text-anchor="middle" textLength="13.1" lengthAdjust="spacingAndGlyphs">WT</text>
<text x="296.75" y="650" font-size="8.6">LOX-1</text>
<text x="296.75" y="660.2" font-size="8.6">KO</text>
<line x1="326.05" y1="508" x2="326.05" y2="585.3" stroke="#222" stroke-width="1.2" />
<line x1="324.05" y1="584.8" x2="326.05" y2="584.8" stroke="#222" stroke-width="0.9" />
<text x="324.05" y="587.2" font-size="7" text-anchor="end" fill="#222" textLength="3.2" lengthAdjust="spacingAndGlyphs">0</text>
<line x1="324.05" y1="559.3" x2="326.05" y2="559.3" stroke="#222" stroke-width="0.9" />
<text x="324.05" y="561.7" font-size="7" text-anchor="end" fill="#222" textLength="6.4" lengthAdjust="spacingAndGlyphs">50</text>
<line x1="324.05" y1="533.8" x2="326.05" y2="533.8" stroke="#222" stroke-width="0.9" />
<text x="324.05" y="536.2" font-size="7" text-anchor="end" fill="#222" textLength="9.6" lengthAdjust="spacingAndGlyphs">100</text>
<line x1="324.05" y1="508.3" x2="326.05" y2="508.3" stroke="#222" stroke-width="0.9" />
<text x="324.05" y="510.7" font-size="7" text-anchor="end" fill="#222" textLength="9.6" lengthAdjust="spacingAndGlyphs">150</text>
<rect x="327.7" y="531.76" width="6.6" height="53.04" fill="#ffffff" stroke="#333" stroke-width="0.75"/>
<rect x="337.55" y="542.06" width="6.6" height="42.74" fill="#ffffff" stroke="#333" stroke-width="0.75"/>
<rect x="347.4" y="534.16" width="6.6" height="50.64" fill="#ffffff" stroke="#333" stroke-width="0.75"/>
<rect x="357.25" y="540.94" width="6.6" height="43.86" fill="#ff0000" stroke="#333" stroke-width="0.75"/>
<rect x="367.1" y="534.16" width="6.6" height="50.64" fill="#ffffff" stroke="#333" stroke-width="0.75"/>
<rect x="376.95" y="544" width="6.6" height="40.8" fill="#ff0000" stroke="#333" stroke-width="0.75"/>
<line x1="325.45" y1="584.8" x2="385.65" y2="584.8" stroke="#222" stroke-width="1.2" />
<line x1="331" y1="529.72" x2="331" y2="533.8" stroke="#222" stroke-width="0.7" />
<line x1="329.5" y1="529.72" x2="332.5" y2="529.72" stroke="#222" stroke-width="0.7" />
<line x1="340.85" y1="535.43" x2="340.85" y2="548.69" stroke="#222" stroke-width="0.7" />
<line x1="339.35" y1="535.43" x2="342.35" y2="535.43" stroke="#222" stroke-width="0.7" />
<line x1="350.7" y1="531.61" x2="350.7" y2="536.71" stroke="#222" stroke-width="0.7" />
<line x1="349.2" y1="531.61" x2="352.2" y2="531.61" stroke="#222" stroke-width="0.7" />
<line x1="360.55" y1="531.25" x2="360.55" y2="550.63" stroke="#222" stroke-width="0.7" />
<line x1="359.05" y1="531.25" x2="362.05" y2="531.25" stroke="#222" stroke-width="0.7" />
<line x1="370.4" y1="529.57" x2="370.4" y2="538.75" stroke="#222" stroke-width="0.7" />
<line x1="368.9" y1="529.57" x2="371.9" y2="529.57" stroke="#222" stroke-width="0.7" />
<line x1="380.25" y1="542.47" x2="380.25" y2="545.53" stroke="#222" stroke-width="0.7" />
<line x1="378.75" y1="542.47" x2="381.75" y2="542.47" stroke="#222" stroke-width="0.7" />
<circle cx="331" cy="526.15" r="1.6" fill="none" stroke="#111" stroke-width="0.7"/>
<circle cx="329.7" cy="528.7" r="1.6" fill="none" stroke="#111" stroke-width="0.7"/>
<circle cx="332.3" cy="531.25" r="1.6" fill="none" stroke="#111" stroke-width="0.7"/>
<circle cx="330.4" cy="533.8" r="1.6" fill="none" stroke="#111" stroke-width="0.7"/>
<circle cx="331.8" cy="536.35" r="1.6" fill="none" stroke="#111" stroke-width="0.7"/>
<circle cx="330" cy="538.9" r="1.6" fill="none" stroke="#111" stroke-width="0.7"/>
<circle cx="340.85" cy="515.44" r="1.6" fill="none" stroke="#111" stroke-width="0.7"/>
<circle cx="339.55" cy="519.52" r="1.6" fill="none" stroke="#111" stroke-width="0.7"/>
<circle cx="342.15" cy="541.45" r="1.6" fill="none" stroke="#111" stroke-width="0.7"/>
<circle cx="340.25" cy="550.12" r="1.6" fill="none" stroke="#111" stroke-width="0.7"/>
<circle cx="341.65" cy="550.63" r="1.6" fill="none" stroke="#111" stroke-width="0.7"/>
<circle cx="339.85" cy="559.3" r="1.6" fill="none" stroke="#111" stroke-width="0.7"/>
<circle cx="341.95" cy="560.83" r="1.6" fill="none" stroke="#111" stroke-width="0.7"/>
<circle cx="350.7" cy="527.68" r="1.6" fill="none" stroke="#111" stroke-width="0.7"/>
<circle cx="349.4" cy="528.7" r="1.6" fill="none" stroke="#111" stroke-width="0.7"/>
<circle cx="352" cy="533.8" r="1.6" fill="none" stroke="#111" stroke-width="0.7"/>
<circle cx="350.1" cy="535.84" r="1.6" fill="none" stroke="#111" stroke-width="0.7"/>
<circle cx="351.5" cy="542.98" r="1.6" fill="none" stroke="#111" stroke-width="0.7"/>
<circle cx="360.55" cy="515.95" r="1.6" fill="none" stroke="#111" stroke-width="0.7"/>
<circle cx="359.25" cy="531.25" r="1.6" fill="none" stroke="#111" stroke-width="0.7"/>
<circle cx="361.85" cy="538.39" r="1.6" fill="none" stroke="#111" stroke-width="0.7"/>
<circle cx="359.95" cy="556.75" r="1.6" fill="none" stroke="#111" stroke-width="0.7"/>
<circle cx="361.35" cy="563.89" r="1.6" fill="none" stroke="#111" stroke-width="0.7"/>
<circle cx="370.4" cy="523.6" r="1.6" fill="none" stroke="#111" stroke-width="0.7"/>
<circle cx="369.1" cy="531.25" r="1.6" fill="none" stroke="#111" stroke-width="0.7"/>
<circle cx="371.7" cy="531.76" r="1.6" fill="none" stroke="#111" stroke-width="0.7"/>
<circle cx="369.8" cy="532.27" r="1.6" fill="none" stroke="#111" stroke-width="0.7"/>
<circle cx="371.2" cy="550.12" r="1.6" fill="none" stroke="#111" stroke-width="0.7"/>
<circle cx="380.25" cy="533.8" r="1.6" fill="none" stroke="#111" stroke-width="0.7"/>
<circle cx="378.95" cy="542.98" r="1.6" fill="none" stroke="#111" stroke-width="0.7"/>
<circle cx="381.55" cy="546.55" r="1.6" fill="none" stroke="#111" stroke-width="0.7"/>
<circle cx="379.65" cy="547.57" r="1.6" fill="none" stroke="#111" stroke-width="0.7"/>
<text x="355.65" y="482" font-size="10.6" text-anchor="middle" font-style="italic" textLength="35.58" lengthAdjust="spacingAndGlyphs">Hsd3B1</text>
<text x="333.6" y="587.8" font-size="6.5" text-anchor="end" fill="#000" transform="rotate(-90 333.6 587.8)">saline</text>
<text x="343.45" y="587.8" font-size="6.5" text-anchor="end" fill="#000" transform="rotate(-90 343.45 587.8)">oxLDL</text>
<text x="353.3" y="587.8" font-size="6.5" text-anchor="end" fill="#000" transform="rotate(-90 353.3 587.8)">AII</text>
<text x="363.15" y="587.8" font-size="6.5" text-anchor="end" fill="#000" transform="rotate(-90 363.15 587.8)">AII+oxLDL</text>
<text x="373" y="587.8" font-size="6.5" text-anchor="end" fill="#000" transform="rotate(-90 373 587.8)">AII</text>
<text x="382.85" y="587.8" font-size="6.5" text-anchor="end" fill="#000" transform="rotate(-90 382.85 587.8)">AII+oxLDL</text>
<line x1="327.05" y1="637.1" x2="364.05" y2="637.1" stroke="#bbb" stroke-width="1" />
<line x1="367.25" y1="637.1" x2="385.65" y2="637.1" stroke="#bbb" stroke-width="1" />
<text x="346.05" y="648.9" font-size="9.3" text-anchor="middle" textLength="13.1" lengthAdjust="spacingAndGlyphs">WT</text>
<text x="366.25" y="650" font-size="8.6">LOX-1</text>
<text x="366.25" y="660.2" font-size="8.6">KO</text>
<line x1="395.55" y1="508" x2="395.55" y2="585.3" stroke="#222" stroke-width="1.2" />
<line x1="393.55" y1="584.8" x2="395.55" y2="584.8" stroke="#222" stroke-width="0.9" />
<text x="393.55" y="587.2" font-size="7" text-anchor="end" fill="#222" textLength="3.2" lengthAdjust="spacingAndGlyphs">0</text>
<line x1="393.55" y1="559.3" x2="395.55" y2="559.3" stroke="#222" stroke-width="0.9" />
<text x="393.55" y="561.7" font-size="7" text-anchor="end" fill="#222" textLength="9.6" lengthAdjust="spacingAndGlyphs">100</text>
<line x1="393.55" y1="533.8" x2="395.55" y2="533.8" stroke="#222" stroke-width="0.9" />
<text x="393.55" y="536.2" font-size="7" text-anchor="end" fill="#222" textLength="9.6" lengthAdjust="spacingAndGlyphs">200</text>
<line x1="393.55" y1="508.3" x2="395.55" y2="508.3" stroke="#222" stroke-width="0.9" />
<text x="393.55" y="510.7" font-size="7" text-anchor="end" fill="#222" textLength="9.6" lengthAdjust="spacingAndGlyphs">300</text>
<rect x="397.2" y="559.3" width="6.6" height="25.5" fill="#ffffff" stroke="#333" stroke-width="0.75"/>
<rect x="407.05" y="564.4" width="6.6" height="20.4" fill="#ffffff" stroke="#333" stroke-width="0.75"/>
<rect x="416.9" y="558.28" width="6.6" height="26.52" fill="#ffffff" stroke="#333" stroke-width="0.75"/>
<rect x="426.75" y="541.96" width="6.6" height="42.84" fill="#ff0000" stroke="#333" stroke-width="0.75"/>
<rect x="436.6" y="559.3" width="6.6" height="25.5" fill="#ffffff" stroke="#333" stroke-width="0.75"/>
<rect x="446.45" y="568.99" width="6.6" height="15.81" fill="#ff0000" stroke="#333" stroke-width="0.75"/>
<line x1="394.95" y1="584.8" x2="455.15" y2="584.8" stroke="#222" stroke-width="1.2" />
<line x1="400.5" y1="555.48" x2="400.5" y2="563.12" stroke="#222" stroke-width="0.7" />
<line x1="399" y1="555.48" x2="402" y2="555.48" stroke="#222" stroke-width="0.7" />
<line x1="410.35" y1="560.83" x2="410.35" y2="567.97" stroke="#222" stroke-width="0.7" />
<line x1="408.85" y1="560.83" x2="411.85" y2="560.83" stroke="#222" stroke-width="0.7" />
<line x1="420.2" y1="553.69" x2="420.2" y2="562.87" stroke="#222" stroke-width="0.7" />
<line x1="418.7" y1="553.69" x2="421.7" y2="553.69" stroke="#222" stroke-width="0.7" />
<line x1="430.05" y1="534.31" x2="430.05" y2="549.61" stroke="#222" stroke-width="0.7" />
<line x1="428.55" y1="534.31" x2="431.55" y2="534.31" stroke="#222" stroke-width="0.7" />
<line x1="439.9" y1="556.24" x2="439.9" y2="562.36" stroke="#222" stroke-width="0.7" />
<line x1="438.4" y1="556.24" x2="441.4" y2="556.24" stroke="#222" stroke-width="0.7" />
<line x1="449.75" y1="567.46" x2="449.75" y2="570.52" stroke="#222" stroke-width="0.7" />
<line x1="448.25" y1="567.46" x2="451.25" y2="567.46" stroke="#222" stroke-width="0.7" />
<circle cx="400.5" cy="546.55" r="1.6" fill="none" stroke="#111" stroke-width="0.7"/>
<circle cx="399.2" cy="549.1" r="1.6" fill="none" stroke="#111" stroke-width="0.7"/>
<circle cx="401.8" cy="554.2" r="1.6" fill="none" stroke="#111" stroke-width="0.7"/>
<circle cx="399.9" cy="559.3" r="1.6" fill="none" stroke="#111" stroke-width="0.7"/>
<circle cx="401.3" cy="565.67" r="1.6" fill="none" stroke="#111" stroke-width="0.7"/>
<circle cx="399.5" cy="568.22" r="1.6" fill="none" stroke="#111" stroke-width="0.7"/>
<circle cx="410.35" cy="551.65" r="1.6" fill="none" stroke="#111" stroke-width="0.7"/>
<circle cx="409.05" cy="554.2" r="1.6" fill="none" stroke="#111" stroke-width="0.7"/>
<circle cx="411.65" cy="561.85" r="1.6" fill="none" stroke="#111" stroke-width="0.7"/>
<circle cx="409.75" cy="564.4" r="1.6" fill="none" stroke="#111" stroke-width="0.7"/>
<circle cx="411.15" cy="566.95" r="1.6" fill="none" stroke="#111" stroke-width="0.7"/>
<circle cx="409.35" cy="573.32" r="1.6" fill="none" stroke="#111" stroke-width="0.7"/>
<circle cx="411.45" cy="575.88" r="1.6" fill="none" stroke="#111" stroke-width="0.7"/>
<circle cx="420.2" cy="541.45" r="1.6" fill="none" stroke="#111" stroke-width="0.7"/>
<circle cx="418.9" cy="558.02" r="1.6" fill="none" stroke="#111" stroke-width="0.7"/>
<circle cx="421.5" cy="559.3" r="1.6" fill="none" stroke="#111" stroke-width="0.7"/>
<circle cx="419.6" cy="561.85" r="1.6" fill="none" stroke="#111" stroke-width="0.7"/>
<circle cx="421" cy="563.12" r="1.6" fill="none" stroke="#111" stroke-width="0.7"/>
<circle cx="419.2" cy="574.6" r="1.6" fill="none" stroke="#111" stroke-width="0.7"/>
<circle cx="430.05" cy="519.01" r="1.6" fill="none" stroke="#111" stroke-width="0.7"/>
<circle cx="428.75" cy="533.8" r="1.6" fill="none" stroke="#111" stroke-width="0.7"/>
<circle cx="431.35" cy="536.86" r="1.6" fill="none" stroke="#111" stroke-width="0.7"/>
<circle cx="429.45" cy="554.2" r="1.6" fill="none" stroke="#111" stroke-width="0.7"/>
<circle cx="430.85" cy="563.12" r="1.6" fill="none" stroke="#111" stroke-width="0.7"/>
<circle cx="439.9" cy="552.92" r="1.6" fill="none" stroke="#111" stroke-width="0.7"/>
<circle cx="438.6" cy="554.2" r="1.6" fill="none" stroke="#111" stroke-width="0.7"/>
<circle cx="441.2" cy="559.3" r="1.6" fill="none" stroke="#111" stroke-width="0.7"/>
<circle cx="439.3" cy="561.85" r="1.6" fill="none" stroke="#111" stroke-width="0.7"/>
<circle cx="440.7" cy="564.4" r="1.6" fill="none" stroke="#111" stroke-width="0.7"/>
<circle cx="449.75" cy="565.67" r="1.6" fill="none" stroke="#111" stroke-width="0.7"/>
<circle cx="448.45" cy="566.95" r="1.6" fill="none" stroke="#111" stroke-width="0.7"/>
<circle cx="451.05" cy="569.5" r="1.6" fill="none" stroke="#111" stroke-width="0.7"/>
<circle cx="449.15" cy="570.77" r="1.6" fill="none" stroke="#111" stroke-width="0.7"/>
<text x="425.15" y="482" font-size="10.6" text-anchor="middle" font-style="italic" textLength="35.58" lengthAdjust="spacingAndGlyphs">Hsd3B6</text>
<text x="403.1" y="587.8" font-size="6.5" text-anchor="end" fill="#000" transform="rotate(-90 403.1 587.8)">saline</text>
<text x="412.95" y="587.8" font-size="6.5" text-anchor="end" fill="#000" transform="rotate(-90 412.95 587.8)">oxLDL</text>
<text x="422.8" y="587.8" font-size="6.5" text-anchor="end" fill="#000" transform="rotate(-90 422.8 587.8)">AII</text>
<text x="432.65" y="587.8" font-size="6.5" text-anchor="end" fill="#000" transform="rotate(-90 432.65 587.8)">AII+oxLDL</text>
<text x="442.5" y="587.8" font-size="6.5" text-anchor="end" fill="#000" transform="rotate(-90 442.5 587.8)">AII</text>
<text x="452.35" y="587.8" font-size="6.5" text-anchor="end" fill="#000" transform="rotate(-90 452.35 587.8)">AII+oxLDL</text>
<line x1="396.55" y1="637.1" x2="433.55" y2="637.1" stroke="#bbb" stroke-width="1" />
<line x1="436.75" y1="637.1" x2="455.15" y2="637.1" stroke="#bbb" stroke-width="1" />
<text x="415.55" y="648.9" font-size="9.3" text-anchor="middle" textLength="13.1" lengthAdjust="spacingAndGlyphs">WT</text>
<text x="435.75" y="650" font-size="8.6">LOX-1</text>
<text x="435.75" y="660.2" font-size="8.6">KO</text>
<line x1="465.05" y1="508" x2="465.05" y2="585.3" stroke="#7a7a7a" stroke-width="2.2" />
<line x1="463.05" y1="584.8" x2="465.05" y2="584.8" stroke="#7a7a7a" stroke-width="0.9" />
<text x="463.05" y="587.2" font-size="7" text-anchor="end" fill="#222" textLength="3.2" lengthAdjust="spacingAndGlyphs">0</text>
<line x1="463.05" y1="565.67" x2="465.05" y2="565.67" stroke="#7a7a7a" stroke-width="0.9" />
<text x="463.05" y="568.07" font-size="7" text-anchor="end" fill="#222" textLength="6.4" lengthAdjust="spacingAndGlyphs">50</text>
<line x1="463.05" y1="546.55" x2="465.05" y2="546.55" stroke="#7a7a7a" stroke-width="0.9" />
<text x="463.05" y="548.95" font-size="7" text-anchor="end" fill="#222" textLength="9.6" lengthAdjust="spacingAndGlyphs">100</text>
<line x1="463.05" y1="527.42" x2="465.05" y2="527.42" stroke="#7a7a7a" stroke-width="0.9" />
<text x="463.05" y="529.82" font-size="7" text-anchor="end" fill="#222" textLength="9.6" lengthAdjust="spacingAndGlyphs">150</text>
<line x1="463.05" y1="508.3" x2="465.05" y2="508.3" stroke="#7a7a7a" stroke-width="0.9" />
<text x="463.05" y="510.7" font-size="7" text-anchor="end" fill="#222" textLength="9.6" lengthAdjust="spacingAndGlyphs">200</text>
<rect x="466.7" y="546.55" width="6.6" height="38.25" fill="#ffffff" stroke="#333" stroke-width="0.75"/>
<rect x="476.55" y="562.62" width="6.6" height="22.18" fill="#ffffff" stroke="#333" stroke-width="0.75"/>
<rect x="486.4" y="546.55" width="6.6" height="38.25" fill="#ffffff" stroke="#333" stroke-width="0.75"/>
<rect x="496.25" y="552.29" width="6.6" height="32.51" fill="#ff0000" stroke="#333" stroke-width="0.75"/>
<rect x="506.1" y="546.55" width="6.6" height="38.25" fill="#ffffff" stroke="#333" stroke-width="0.75"/>
<rect x="515.95" y="542.34" width="6.6" height="42.46" fill="#ff0000" stroke="#333" stroke-width="0.75"/>
<line x1="464.45" y1="584.8" x2="524.65" y2="584.8" stroke="#7a7a7a" stroke-width="1.2" />
<line x1="470" y1="543.49" x2="470" y2="549.61" stroke="#222" stroke-width="0.7" />
<line x1="468.5" y1="543.49" x2="471.5" y2="543.49" stroke="#222" stroke-width="0.7" />
<line x1="479.85" y1="558.02" x2="479.85" y2="567.2" stroke="#222" stroke-width="0.7" />
<line x1="478.35" y1="558.02" x2="481.35" y2="558.02" stroke="#222" stroke-width="0.7" />
<line x1="489.7" y1="541.19" x2="489.7" y2="551.9" stroke="#222" stroke-width="0.7" />
<line x1="488.2" y1="541.19" x2="491.2" y2="541.19" stroke="#222" stroke-width="0.7" />
<line x1="499.55" y1="546.93" x2="499.55" y2="557.64" stroke="#222" stroke-width="0.7" />
<line x1="498.05" y1="546.93" x2="501.05" y2="546.93" stroke="#222" stroke-width="0.7" />
<line x1="509.4" y1="543.11" x2="509.4" y2="549.99" stroke="#222" stroke-width="0.7" />
<line x1="507.9" y1="543.11" x2="510.9" y2="543.11" stroke="#222" stroke-width="0.7" />
<line x1="519.25" y1="539.28" x2="519.25" y2="545.4" stroke="#222" stroke-width="0.7" />
<line x1="517.75" y1="539.28" x2="520.75" y2="539.28" stroke="#222" stroke-width="0.7" />
<circle cx="470" cy="533.16" r="1.6" fill="none" stroke="#111" stroke-width="0.7"/>
<circle cx="468.7" cy="540.81" r="1.6" fill="none" stroke="#111" stroke-width="0.7"/>
<circle cx="471.3" cy="544.64" r="1.6" fill="none" stroke="#111" stroke-width="0.7"/>
<circle cx="469.4" cy="546.55" r="1.6" fill="none" stroke="#111" stroke-width="0.7"/>
<circle cx="470.8" cy="548.46" r="1.6" fill="none" stroke="#111" stroke-width="0.7"/>
<circle cx="469" cy="552.29" r="1.6" fill="none" stroke="#111" stroke-width="0.7"/>
<circle cx="471.1" cy="558.02" r="1.6" fill="none" stroke="#111" stroke-width="0.7"/>
<circle cx="479.85" cy="533.93" r="1.6" fill="none" stroke="#111" stroke-width="0.7"/>
<circle cx="478.55" cy="558.02" r="1.6" fill="none" stroke="#111" stroke-width="0.7"/>
<circle cx="481.15" cy="561.85" r="1.6" fill="none" stroke="#111" stroke-width="0.7"/>
<circle cx="479.25" cy="565.67" r="1.6" fill="none" stroke="#111" stroke-width="0.7"/>
<circle cx="480.65" cy="567.59" r="1.6" fill="none" stroke="#111" stroke-width="0.7"/>
<circle cx="478.85" cy="571.41" r="1.6" fill="none" stroke="#111" stroke-width="0.7"/>
<circle cx="480.95" cy="574.09" r="1.6" fill="none" stroke="#111" stroke-width="0.7"/>
<circle cx="489.7" cy="529.34" r="1.6" fill="none" stroke="#111" stroke-width="0.7"/>
<circle cx="488.4" cy="541.96" r="1.6" fill="none" stroke="#111" stroke-width="0.7"/>
<circle cx="491" cy="546.55" r="1.6" fill="none" stroke="#111" stroke-width="0.7"/>
<circle cx="489.1" cy="556.11" r="1.6" fill="none" stroke="#111" stroke-width="0.7"/>
<circle cx="490.5" cy="561.85" r="1.6" fill="none" stroke="#111" stroke-width="0.7"/>
<circle cx="499.55" cy="540.81" r="1.6" fill="none" stroke="#111" stroke-width="0.7"/>
<circle cx="498.25" cy="544.64" r="1.6" fill="none" stroke="#111" stroke-width="0.7"/>
<circle cx="500.85" cy="546.55" r="1.6" fill="none" stroke="#111" stroke-width="0.7"/>
<circle cx="498.95" cy="552.29" r="1.6" fill="none" stroke="#111" stroke-width="0.7"/>
<circle cx="500.35" cy="572.18" r="1.6" fill="none" stroke="#111" stroke-width="0.7"/>
<circle cx="509.4" cy="529.34" r="1.6" fill="none" stroke="#111" stroke-width="0.7"/>
<circle cx="508.1" cy="546.55" r="1.6" fill="none" stroke="#111" stroke-width="0.7"/>
<circle cx="510.7" cy="548.46" r="1.6" fill="none" stroke="#111" stroke-width="0.7"/>
<circle cx="508.8" cy="552.29" r="1.6" fill="none" stroke="#111" stroke-width="0.7"/>
<circle cx="510.2" cy="556.11" r="1.6" fill="none" stroke="#111" stroke-width="0.7"/>
<circle cx="519.25" cy="531.25" r="1.6" fill="none" stroke="#111" stroke-width="0.7"/>
<circle cx="517.95" cy="538.9" r="1.6" fill="none" stroke="#111" stroke-width="0.7"/>
<circle cx="520.55" cy="540.81" r="1.6" fill="none" stroke="#111" stroke-width="0.7"/>
<circle cx="518.65" cy="546.55" r="1.6" fill="none" stroke="#111" stroke-width="0.7"/>
<circle cx="520.05" cy="556.11" r="1.6" fill="none" stroke="#111" stroke-width="0.7"/>
<text x="494.65" y="482" font-size="10.6" text-anchor="middle" font-style="italic" textLength="23.16" lengthAdjust="spacingAndGlyphs">AT1a</text>
<text x="472.6" y="587.8" font-size="6.5" text-anchor="end" fill="#000" transform="rotate(-90 472.6 587.8)">saline</text>
<text x="482.45" y="587.8" font-size="6.5" text-anchor="end" fill="#000" transform="rotate(-90 482.45 587.8)">oxLDL</text>
<text x="492.3" y="587.8" font-size="6.5" text-anchor="end" fill="#000" transform="rotate(-90 492.3 587.8)">AII</text>
<text x="502.15" y="587.8" font-size="6.5" text-anchor="end" fill="#000" transform="rotate(-90 502.15 587.8)">AII+oxLDL</text>
<text x="512" y="587.8" font-size="6.5" text-anchor="end" fill="#000" transform="rotate(-90 512 587.8)">AII</text>
<text x="521.85" y="587.8" font-size="6.5" text-anchor="end" fill="#000" transform="rotate(-90 521.85 587.8)">AII+oxLDL</text>
<line x1="466.05" y1="637.1" x2="503.05" y2="637.1" stroke="#bbb" stroke-width="1" />
<line x1="506.25" y1="637.1" x2="524.65" y2="637.1" stroke="#bbb" stroke-width="1" />
<text x="485.05" y="648.9" font-size="9.3" text-anchor="middle" textLength="13.1" lengthAdjust="spacingAndGlyphs">WT</text>
<text x="505.25" y="650" font-size="8.6">LOX-1</text>
<text x="505.25" y="660.2" font-size="8.6">KO</text>
<line x1="534.55" y1="508" x2="534.55" y2="585.3" stroke="#222" stroke-width="1.2" />
<line x1="532.55" y1="584.8" x2="534.55" y2="584.8" stroke="#222" stroke-width="0.9" />
<text x="532.55" y="587.2" font-size="7" text-anchor="end" fill="#222" textLength="3.2" lengthAdjust="spacingAndGlyphs">0</text>
<line x1="532.55" y1="569.5" x2="534.55" y2="569.5" stroke="#222" stroke-width="0.9" />
<text x="532.55" y="571.9" font-size="7" text-anchor="end" fill="#222" textLength="6.4" lengthAdjust="spacingAndGlyphs">50</text>
<line x1="532.55" y1="554.2" x2="534.55" y2="554.2" stroke="#222" stroke-width="0.9" />
<text x="532.55" y="556.6" font-size="7" text-anchor="end" fill="#222" textLength="9.6" lengthAdjust="spacingAndGlyphs">100</text>
<line x1="532.55" y1="538.9" x2="534.55" y2="538.9" stroke="#222" stroke-width="0.9" />
<text x="532.55" y="541.3" font-size="7" text-anchor="end" fill="#222" textLength="9.6" lengthAdjust="spacingAndGlyphs">150</text>
<line x1="532.55" y1="523.6" x2="534.55" y2="523.6" stroke="#222" stroke-width="0.9" />
<text x="532.55" y="526" font-size="7" text-anchor="end" fill="#222" textLength="9.6" lengthAdjust="spacingAndGlyphs">200</text>
<line x1="532.55" y1="508.3" x2="534.55" y2="508.3" stroke="#222" stroke-width="0.9" />
<text x="532.55" y="510.7" font-size="7" text-anchor="end" fill="#222" textLength="9.6" lengthAdjust="spacingAndGlyphs">250</text>
<rect x="536.2" y="554.2" width="6.6" height="30.6" fill="#ffffff" stroke="#333" stroke-width="0.75"/>
<rect x="546.05" y="559.1" width="6.6" height="25.7" fill="#ffffff" stroke="#333" stroke-width="0.75"/>
<rect x="555.9" y="554.2" width="6.6" height="30.6" fill="#ffffff" stroke="#333" stroke-width="0.75"/>
<rect x="565.75" y="545.78" width="6.6" height="39.01" fill="#ff0000" stroke="#333" stroke-width="0.75"/>
<rect x="575.6" y="554.2" width="6.6" height="30.6" fill="#ffffff" stroke="#333" stroke-width="0.75"/>
<rect x="585.45" y="553.28" width="6.6" height="31.52" fill="#ff0000" stroke="#333" stroke-width="0.75"/>
<line x1="533.95" y1="584.8" x2="594.15" y2="584.8" stroke="#222" stroke-width="1.2" />
<line x1="539.5" y1="551.75" x2="539.5" y2="556.65" stroke="#222" stroke-width="0.7" />
<line x1="538" y1="551.75" x2="541" y2="551.75" stroke="#222" stroke-width="0.7" />
<line x1="549.35" y1="556.04" x2="549.35" y2="562.16" stroke="#222" stroke-width="0.7" />
<line x1="547.85" y1="556.04" x2="550.85" y2="556.04" stroke="#222" stroke-width="0.7" />
<line x1="559.2" y1="547.47" x2="559.2" y2="560.93" stroke="#222" stroke-width="0.7" />
<line x1="557.7" y1="547.47" x2="560.7" y2="547.47" stroke="#222" stroke-width="0.7" />
<line x1="569.05" y1="538.13" x2="569.05" y2="553.43" stroke="#222" stroke-width="0.7" />
<line x1="567.55" y1="538.13" x2="570.55" y2="538.13" stroke="#222" stroke-width="0.7" />
<line x1="578.9" y1="551.14" x2="578.9" y2="557.26" stroke="#222" stroke-width="0.7" />
<line x1="577.4" y1="551.14" x2="580.4" y2="551.14" stroke="#222" stroke-width="0.7" />
<line x1="588.75" y1="549.61" x2="588.75" y2="556.95" stroke="#222" stroke-width="0.7" />
<line x1="587.25" y1="549.61" x2="590.25" y2="549.61" stroke="#222" stroke-width="0.7" />
<circle cx="539.5" cy="547.47" r="1.6" fill="none" stroke="#111" stroke-width="0.7"/>
<circle cx="538.2" cy="549.61" r="1.6" fill="none" stroke="#111" stroke-width="0.7"/>
<circle cx="540.8" cy="551.14" r="1.6" fill="none" stroke="#111" stroke-width="0.7"/>
<circle cx="538.9" cy="552.67" r="1.6" fill="none" stroke="#111" stroke-width="0.7"/>
<circle cx="540.3" cy="560.32" r="1.6" fill="none" stroke="#111" stroke-width="0.7"/>
<circle cx="538.5" cy="561.85" r="1.6" fill="none" stroke="#111" stroke-width="0.7"/>
<circle cx="549.35" cy="539.51" r="1.6" fill="none" stroke="#111" stroke-width="0.7"/>
<circle cx="548.05" cy="555.73" r="1.6" fill="none" stroke="#111" stroke-width="0.7"/>
<circle cx="550.65" cy="556.65" r="1.6" fill="none" stroke="#111" stroke-width="0.7"/>
<circle cx="548.75" cy="557.87" r="1.6" fill="none" stroke="#111" stroke-width="0.7"/>
<circle cx="550.15" cy="564.91" r="1.6" fill="none" stroke="#111" stroke-width="0.7"/>
<circle cx="548.35" cy="567.97" r="1.6" fill="none" stroke="#111" stroke-width="0.7"/>
<circle cx="550.45" cy="570.11" r="1.6" fill="none" stroke="#111" stroke-width="0.7"/>
<circle cx="559.2" cy="534.31" r="1.6" fill="none" stroke="#111" stroke-width="0.7"/>
<circle cx="557.9" cy="545.02" r="1.6" fill="none" stroke="#111" stroke-width="0.7"/>
<circle cx="560.5" cy="554.2" r="1.6" fill="none" stroke="#111" stroke-width="0.7"/>
<circle cx="558.6" cy="561.85" r="1.6" fill="none" stroke="#111" stroke-width="0.7"/>
<circle cx="560" cy="574.09" r="1.6" fill="none" stroke="#111" stroke-width="0.7"/>
<circle cx="569.05" cy="522.07" r="1.6" fill="none" stroke="#111" stroke-width="0.7"/>
<circle cx="567.75" cy="537.98" r="1.6" fill="none" stroke="#111" stroke-width="0.7"/>
<circle cx="570.35" cy="551.14" r="1.6" fill="none" stroke="#111" stroke-width="0.7"/>
<circle cx="568.45" cy="552.67" r="1.6" fill="none" stroke="#111" stroke-width="0.7"/>
<circle cx="569.85" cy="564.91" r="1.6" fill="none" stroke="#111" stroke-width="0.7"/>
<circle cx="578.9" cy="543.49" r="1.6" fill="none" stroke="#111" stroke-width="0.7"/>
<circle cx="577.6" cy="549.61" r="1.6" fill="none" stroke="#111" stroke-width="0.7"/>
<circle cx="580.2" cy="551.14" r="1.6" fill="none" stroke="#111" stroke-width="0.7"/>
<circle cx="578.3" cy="557.26" r="1.6" fill="none" stroke="#111" stroke-width="0.7"/>
<circle cx="579.7" cy="566.44" r="1.6" fill="none" stroke="#111" stroke-width="0.7"/>
<circle cx="588.75" cy="541.96" r="1.6" fill="none" stroke="#111" stroke-width="0.7"/>
<circle cx="587.45" cy="548.08" r="1.6" fill="none" stroke="#111" stroke-width="0.7"/>
<circle cx="590.05" cy="549.61" r="1.6" fill="none" stroke="#111" stroke-width="0.7"/>
<circle cx="588.15" cy="555.73" r="1.6" fill="none" stroke="#111" stroke-width="0.7"/>
<circle cx="589.55" cy="563.99" r="1.6" fill="none" stroke="#111" stroke-width="0.7"/>
<text x="564.15" y="482" font-size="10.6" text-anchor="middle" font-style="italic" textLength="23.16" lengthAdjust="spacingAndGlyphs">AT1b</text>
<text x="542.1" y="587.8" font-size="6.5" text-anchor="end" fill="#000" transform="rotate(-90 542.1 587.8)">saline</text>
<text x="551.95" y="587.8" font-size="6.5" text-anchor="end" fill="#000" transform="rotate(-90 551.95 587.8)">oxLDL</text>
<text x="561.8" y="587.8" font-size="6.5" text-anchor="end" fill="#000" transform="rotate(-90 561.8 587.8)">AII</text>
<text x="571.65" y="587.8" font-size="6.5" text-anchor="end" fill="#000" transform="rotate(-90 571.65 587.8)">AII+oxLDL</text>
<text x="581.5" y="587.8" font-size="6.5" text-anchor="end" fill="#000" transform="rotate(-90 581.5 587.8)">AII</text>
<text x="591.35" y="587.8" font-size="6.5" text-anchor="end" fill="#000" transform="rotate(-90 591.35 587.8)">AII+oxLDL</text>
<line x1="535.55" y1="637.1" x2="572.55" y2="637.1" stroke="#bbb" stroke-width="1" />
<line x1="575.75" y1="637.1" x2="594.15" y2="637.1" stroke="#bbb" stroke-width="1" />
<text x="554.55" y="648.9" font-size="9.3" text-anchor="middle" textLength="13.1" lengthAdjust="spacingAndGlyphs">WT</text>
<text x="574.75" y="650" font-size="8.6">LOX-1</text>
<text x="574.75" y="660.2" font-size="8.6">KO</text>
<line x1="604.05" y1="508" x2="604.05" y2="585.3" stroke="#222" stroke-width="1.2" />
<line x1="602.05" y1="584.8" x2="604.05" y2="584.8" stroke="#222" stroke-width="0.9" />
<text x="602.05" y="587.2" font-size="7" text-anchor="end" fill="#222" textLength="3.2" lengthAdjust="spacingAndGlyphs">0</text>
<line x1="602.05" y1="559.3" x2="604.05" y2="559.3" stroke="#222" stroke-width="0.9" />
<text x="602.05" y="561.7" font-size="7" text-anchor="end" fill="#222" textLength="9.6" lengthAdjust="spacingAndGlyphs">100</text>
<line x1="602.05" y1="533.8" x2="604.05" y2="533.8" stroke="#222" stroke-width="0.9" />
<text x="602.05" y="536.2" font-size="7" text-anchor="end" fill="#222" textLength="9.6" lengthAdjust="spacingAndGlyphs">200</text>
<line x1="602.05" y1="508.3" x2="604.05" y2="508.3" stroke="#222" stroke-width="0.9" />
<text x="602.05" y="510.7" font-size="7" text-anchor="end" fill="#222" textLength="9.6" lengthAdjust="spacingAndGlyphs">300</text>
<rect x="605.7" y="559.3" width="6.6" height="25.5" fill="#ffffff" stroke="#333" stroke-width="0.75"/>
<rect x="615.55" y="553.94" width="6.6" height="30.86" fill="#ffffff" stroke="#333" stroke-width="0.75"/>
<rect x="625.4" y="559.3" width="6.6" height="25.5" fill="#ffffff" stroke="#333" stroke-width="0.75"/>
<rect x="635.25" y="557" width="6.6" height="27.79" fill="#ff0000" stroke="#333" stroke-width="0.75"/>
<line x1="603.45" y1="584.8" x2="663.65" y2="584.8" stroke="#222" stroke-width="1.2" />
<line x1="609" y1="549.87" x2="609" y2="568.74" stroke="#222" stroke-width="0.7" />
<line x1="607.5" y1="549.87" x2="610.5" y2="549.87" stroke="#222" stroke-width="0.7" />
<line x1="618.85" y1="548.08" x2="618.85" y2="559.81" stroke="#222" stroke-width="0.7" />
<line x1="617.35" y1="548.08" x2="620.35" y2="548.08" stroke="#222" stroke-width="0.7" />
<line x1="628.7" y1="554.2" x2="628.7" y2="564.4" stroke="#222" stroke-width="0.7" />
<line x1="627.2" y1="554.2" x2="630.2" y2="554.2" stroke="#222" stroke-width="0.7" />
<line x1="638.55" y1="548.08" x2="638.55" y2="565.93" stroke="#222" stroke-width="0.7" />
<line x1="637.05" y1="548.08" x2="640.05" y2="548.08" stroke="#222" stroke-width="0.7" />
<circle cx="609" cy="514.67" r="1.6" fill="none" stroke="#111" stroke-width="0.7"/>
<circle cx="607.7" cy="563.12" r="1.6" fill="none" stroke="#111" stroke-width="0.7"/>
<circle cx="610.3" cy="565.67" r="1.6" fill="none" stroke="#111" stroke-width="0.7"/>
<circle cx="608.4" cy="568.22" r="1.6" fill="none" stroke="#111" stroke-width="0.7"/>
<circle cx="609.8" cy="583.52" r="1.6" fill="none" stroke="#111" stroke-width="0.7"/>
<circle cx="618.85" cy="526.66" r="1.6" fill="none" stroke="#111" stroke-width="0.7"/>
<circle cx="617.55" cy="537.62" r="1.6" fill="none" stroke="#111" stroke-width="0.7"/>
<circle cx="620.15" cy="549.61" r="1.6" fill="none" stroke="#111" stroke-width="0.7"/>
<circle cx="618.25" cy="564.4" r="1.6" fill="none" stroke="#111" stroke-width="0.7"/>
<circle cx="619.65" cy="566.95" r="1.6" fill="none" stroke="#111" stroke-width="0.7"/>
<circle cx="617.85" cy="569.5" r="1.6" fill="none" stroke="#111" stroke-width="0.7"/>
<circle cx="628.7" cy="545.27" r="1.6" fill="none" stroke="#111" stroke-width="0.7"/>
<circle cx="627.4" cy="549.1" r="1.6" fill="none" stroke="#111" stroke-width="0.7"/>
<circle cx="630" cy="564.4" r="1.6" fill="none" stroke="#111" stroke-width="0.7"/>
<circle cx="628.1" cy="566.95" r="1.6" fill="none" stroke="#111" stroke-width="0.7"/>
<circle cx="629.5" cy="569.5" r="1.6" fill="none" stroke="#111" stroke-width="0.7"/>
<circle cx="638.55" cy="526.66" r="1.6" fill="none" stroke="#111" stroke-width="0.7"/>
<circle cx="637.25" cy="554.2" r="1.6" fill="none" stroke="#111" stroke-width="0.7"/>
<circle cx="639.85" cy="559.3" r="1.6" fill="none" stroke="#111" stroke-width="0.7"/>
<circle cx="637.95" cy="565.67" r="1.6" fill="none" stroke="#111" stroke-width="0.7"/>
<circle cx="639.35" cy="578.42" r="1.6" fill="none" stroke="#111" stroke-width="0.7"/>
<rect x="645.2" y="583.1" width="6.4" height="3.4" rx="1.7" fill="#111"/>
<rect x="655.05" y="583.1" width="6.4" height="3.4" rx="1.7" fill="#111"/>
<text x="633.65" y="482" font-size="10.6" text-anchor="middle" font-style="italic" textLength="28.9" lengthAdjust="spacingAndGlyphs">LOX-1</text>
<text x="611.6" y="587.8" font-size="6.5" text-anchor="end" fill="#000" transform="rotate(-90 611.6 587.8)">saline</text>
<text x="621.45" y="587.8" font-size="6.5" text-anchor="end" fill="#000" transform="rotate(-90 621.45 587.8)">oxLDL</text>
<text x="631.3" y="587.8" font-size="6.5" text-anchor="end" fill="#000" transform="rotate(-90 631.3 587.8)">AII</text>
<text x="641.15" y="587.8" font-size="6.5" text-anchor="end" fill="#000" transform="rotate(-90 641.15 587.8)">AII+oxLDL</text>
<text x="651" y="587.8" font-size="6.5" text-anchor="end" fill="#000" transform="rotate(-90 651 587.8)">AII</text>
<text x="660.85" y="587.8" font-size="6.5" text-anchor="end" fill="#000" transform="rotate(-90 660.85 587.8)">AII+oxLDL</text>
<line x1="605.05" y1="637.1" x2="642.05" y2="637.1" stroke="#bbb" stroke-width="1" />
<line x1="645.25" y1="637.1" x2="663.65" y2="637.1" stroke="#bbb" stroke-width="1" />
<text x="624.05" y="648.9" font-size="9.3" text-anchor="middle" textLength="13.1" lengthAdjust="spacingAndGlyphs">WT</text>
<text x="644.25" y="650" font-size="8.6">LOX-1</text>
<text x="644.25" y="660.2" font-size="8.6">KO</text>
<text x="406.3" y="493.4" font-size="7.5" textLength="30.5" lengthAdjust="spacingAndGlyphs">P=0.0093</text>
<line x1="408.3" y1="494.6" x2="435" y2="494.6" stroke="#444" stroke-width="0.8" />
<text x="423.6" y="503.4" font-size="7.5" textLength="30.5" lengthAdjust="spacingAndGlyphs">P=0.0020</text>
<line x1="425.7" y1="504.7" x2="451.9" y2="504.7" stroke="#444" stroke-width="0.8" />
<text x="632.8" y="519.9" font-size="7.5" textLength="30.5" lengthAdjust="spacingAndGlyphs">P=0.0492</text>
<line x1="634.3" y1="521.4" x2="660.9" y2="521.4" stroke="#444" stroke-width="0.8" />
</svg>
</body></html>
